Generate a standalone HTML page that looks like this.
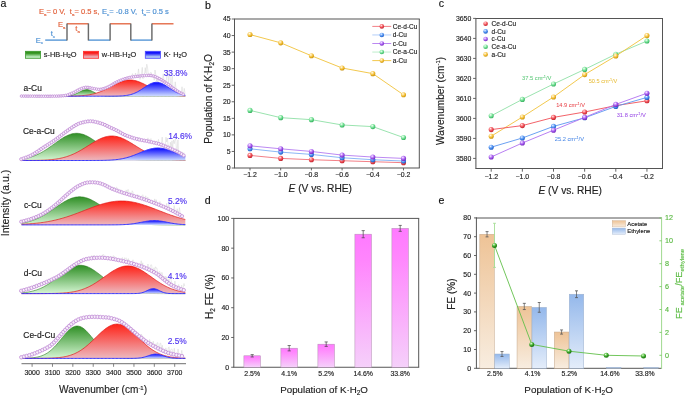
<!DOCTYPE html>
<html><head><meta charset="utf-8"><style>html,body{margin:0;padding:0;background:#fff;width:685px;height:397px;overflow:hidden}svg{display:block;font-family:"Liberation Sans", sans-serif}</style></head>
<body><svg width="685" height="397" viewBox="0 0 685 397" style="will-change:transform" font-family='"Liberation Sans", sans-serif'><defs><radialGradient id="m_red" cx="0.38" cy="0.32" r="0.75"><stop offset="0" stop-color="#ffffff"/><stop offset="0.22" stop-color="#ff9a9e"/><stop offset="0.6" stop-color="#e8434b"/><stop offset="1" stop-color="#b8202a"/></radialGradient><radialGradient id="m_blue" cx="0.38" cy="0.32" r="0.75"><stop offset="0" stop-color="#ffffff"/><stop offset="0.22" stop-color="#9cc4ff"/><stop offset="0.6" stop-color="#3f85ea"/><stop offset="1" stop-color="#1f56b8"/></radialGradient><radialGradient id="m_purple" cx="0.38" cy="0.32" r="0.75"><stop offset="0" stop-color="#ffffff"/><stop offset="0.22" stop-color="#d6a8ff"/><stop offset="0.6" stop-color="#9b4fe6"/><stop offset="1" stop-color="#6a22b4"/></radialGradient><radialGradient id="m_green" cx="0.38" cy="0.32" r="0.75"><stop offset="0" stop-color="#ffffff"/><stop offset="0.22" stop-color="#b8f5c8"/><stop offset="0.6" stop-color="#5fd685"/><stop offset="1" stop-color="#2fa656"/></radialGradient><radialGradient id="m_gold" cx="0.38" cy="0.32" r="0.75"><stop offset="0" stop-color="#ffffff"/><stop offset="0.22" stop-color="#ffe39a"/><stop offset="0.6" stop-color="#efb82a"/><stop offset="1" stop-color="#c08a08"/></radialGradient><radialGradient id="m_dgreen" cx="0.38" cy="0.32" r="0.75"><stop offset="0" stop-color="#ffffff"/><stop offset="0.22" stop-color="#8fdc7a"/><stop offset="0.6" stop-color="#2e9a1e"/><stop offset="1" stop-color="#1a6a10"/></radialGradient><linearGradient id="sw_g" x1="0" y1="0" x2="0" y2="1"><stop offset="0" stop-color="#288a10"/><stop offset="0.3" stop-color="#3a9828"/><stop offset="0.75" stop-color="#b0e4b0"/><stop offset="1" stop-color="#c4eec4"/></linearGradient><linearGradient id="sw_r" x1="0" y1="0" x2="0" y2="1"><stop offset="0" stop-color="#ff1000"/><stop offset="0.3" stop-color="#f8282a"/><stop offset="0.75" stop-color="#eaa4ac"/><stop offset="1" stop-color="#ecb0b6"/></linearGradient><linearGradient id="sw_b" x1="0" y1="0" x2="0" y2="1"><stop offset="0" stop-color="#0000ff"/><stop offset="0.3" stop-color="#2020fa"/><stop offset="0.75" stop-color="#a4bcf6"/><stop offset="1" stop-color="#b4cbf8"/></linearGradient><linearGradient id="pk1" gradientUnits="userSpaceOnUse" x1="0" y1="89.6" x2="0" y2="96.2"><stop offset="0" stop-color="#2f8f25"/><stop offset="1" stop-color="#d6f6d4"/></linearGradient><linearGradient id="pk2" gradientUnits="userSpaceOnUse" x1="0" y1="80" x2="0" y2="96.2"><stop offset="0" stop-color="#ff2318"/><stop offset="1" stop-color="#edb9c0"/></linearGradient><linearGradient id="pk3" gradientUnits="userSpaceOnUse" x1="0" y1="82.3" x2="0" y2="96.2"><stop offset="0" stop-color="#0606ff"/><stop offset="1" stop-color="#d0deff"/></linearGradient><linearGradient id="pk4" gradientUnits="userSpaceOnUse" x1="0" y1="133.3" x2="0" y2="160.5"><stop offset="0" stop-color="#2f8f25"/><stop offset="1" stop-color="#d6f6d4"/></linearGradient><linearGradient id="pk5" gradientUnits="userSpaceOnUse" x1="0" y1="136" x2="0" y2="160.5"><stop offset="0" stop-color="#ff2318"/><stop offset="1" stop-color="#edb9c0"/></linearGradient><linearGradient id="pk6" gradientUnits="userSpaceOnUse" x1="0" y1="148" x2="0" y2="160.5"><stop offset="0" stop-color="#0606ff"/><stop offset="1" stop-color="#d0deff"/></linearGradient><linearGradient id="pk7" gradientUnits="userSpaceOnUse" x1="0" y1="196.8" x2="0" y2="224.9"><stop offset="0" stop-color="#2f8f25"/><stop offset="1" stop-color="#d6f6d4"/></linearGradient><linearGradient id="pk8" gradientUnits="userSpaceOnUse" x1="0" y1="201" x2="0" y2="224.9"><stop offset="0" stop-color="#ff2318"/><stop offset="1" stop-color="#edb9c0"/></linearGradient><linearGradient id="pk9" gradientUnits="userSpaceOnUse" x1="0" y1="220.6" x2="0" y2="224.9"><stop offset="0" stop-color="#0606ff"/><stop offset="1" stop-color="#d0deff"/></linearGradient><linearGradient id="pk10" gradientUnits="userSpaceOnUse" x1="0" y1="265.3" x2="0" y2="293.6"><stop offset="0" stop-color="#2f8f25"/><stop offset="1" stop-color="#d6f6d4"/></linearGradient><linearGradient id="pk11" gradientUnits="userSpaceOnUse" x1="0" y1="265.9" x2="0" y2="293.6"><stop offset="0" stop-color="#ff2318"/><stop offset="1" stop-color="#edb9c0"/></linearGradient><linearGradient id="pk12" gradientUnits="userSpaceOnUse" x1="0" y1="288.6" x2="0" y2="293.6"><stop offset="0" stop-color="#0606ff"/><stop offset="1" stop-color="#d0deff"/></linearGradient><linearGradient id="pk13" gradientUnits="userSpaceOnUse" x1="0" y1="326" x2="0" y2="358.4"><stop offset="0" stop-color="#2f8f25"/><stop offset="1" stop-color="#d6f6d4"/></linearGradient><linearGradient id="pk14" gradientUnits="userSpaceOnUse" x1="0" y1="324.1" x2="0" y2="358.4"><stop offset="0" stop-color="#ff2318"/><stop offset="1" stop-color="#edb9c0"/></linearGradient><linearGradient id="pk15" gradientUnits="userSpaceOnUse" x1="0" y1="354.1" x2="0" y2="358.4"><stop offset="0" stop-color="#0606ff"/><stop offset="1" stop-color="#d0deff"/></linearGradient><linearGradient id="bar_m" x1="0" y1="0" x2="0" y2="1"><stop offset="0" stop-color="#ff7aff"/><stop offset="0.2" stop-color="#ff86fd"/><stop offset="1" stop-color="#f5d0fa"/></linearGradient><linearGradient id="bar_a" x1="0" y1="0" x2="0" y2="1"><stop offset="0" stop-color="#eec396"/><stop offset="1" stop-color="#f8ede0"/></linearGradient><linearGradient id="bar_e" x1="0" y1="0" x2="0" y2="1"><stop offset="0" stop-color="#94b8eb"/><stop offset="1" stop-color="#e4edfa"/></linearGradient></defs><rect width="685" height="397" fill="#fff"/><text x="0.6" y="6.8" font-size="10.6" fill="#111" stroke="#111" stroke-width="0.15" text-anchor="start" >a</text>
<text x="38.9" y="14" font-size="7.1" fill="#e2603a" textLength="60.5" lengthAdjust="spacingAndGlyphs" stroke="#e2603a" stroke-width="0.15">E<tspan font-size="4.2" dy="1.8">a</tspan><tspan dy="-1.8">= 0 V, &#160;t</tspan><tspan font-size="4.2" dy="1.8">a</tspan><tspan dy="-1.8">= 0.5 s,</tspan></text>
<text x="101.9" y="14" font-size="7.1" fill="#4a8fd3" textLength="67" lengthAdjust="spacingAndGlyphs" stroke="#4a8fd3" stroke-width="0.15">E<tspan font-size="4.2" dy="1.8">c</tspan><tspan dy="-1.8">= -0.8 V, &#160;t</tspan><tspan font-size="4.2" dy="1.8">a</tspan><tspan dy="-1.8">= 0.5 s</tspan></text>
<line x1="45.2" y1="40.1" x2="67" y2="40.1" stroke="#4a8fd3" stroke-width="1.3" />
<line x1="67" y1="23.8" x2="88.4" y2="23.8" stroke="#e2603a" stroke-width="1.3" />
<line x1="88.4" y1="40.1" x2="110.1" y2="40.1" stroke="#4a8fd3" stroke-width="1.3" />
<line x1="110.1" y1="23.8" x2="130.8" y2="23.8" stroke="#e2603a" stroke-width="1.3" />
<line x1="130.8" y1="40.1" x2="151.9" y2="40.1" stroke="#4a8fd3" stroke-width="1.3" />
<line x1="151.9" y1="23.8" x2="173.5" y2="23.8" stroke="#e2603a" stroke-width="1.3" />
<line x1="67" y1="23.4" x2="67" y2="40.5" stroke="#6a6a6a" stroke-width="1.45" />
<line x1="88.4" y1="23.4" x2="88.4" y2="40.5" stroke="#6a6a6a" stroke-width="1.45" />
<line x1="110.1" y1="23.4" x2="110.1" y2="40.5" stroke="#6a6a6a" stroke-width="1.45" />
<line x1="130.8" y1="23.4" x2="130.8" y2="40.5" stroke="#6a6a6a" stroke-width="1.45" />
<line x1="151.9" y1="23.4" x2="151.9" y2="40.5" stroke="#6a6a6a" stroke-width="1.45" />
<text x="57.9" y="27.3" font-size="7.5" fill="#e2603a" stroke="#e2603a" stroke-width="0.15">E<tspan font-size="4.3" dy="1.4">a</tspan></text>
<text x="75.3" y="30.7" font-size="7.8" fill="#e2603a" stroke="#e2603a" stroke-width="0.15">t<tspan font-size="4.3" dy="1.8">a</tspan></text>
<text x="50.7" y="35.9" font-size="7.8" fill="#4a8fd3" stroke="#4a8fd3" stroke-width="0.15">t<tspan font-size="4.3" dy="1.8">c</tspan></text>
<text x="35.8" y="42.5" font-size="7.5" fill="#4a8fd3" stroke="#4a8fd3" stroke-width="0.15">E<tspan font-size="4.3" dy="1.6">c</tspan></text>
<rect x="25.4" y="51.3" width="15.2" height="7.0" fill="url(#sw_g)" stroke="#3c9a30" stroke-width="0.8"/>
<rect x="83.4" y="51.3" width="15.2" height="7.0" fill="url(#sw_r)" stroke="#ff3030" stroke-width="0.8"/>
<rect x="145.3" y="51.3" width="15.2" height="7.0" fill="url(#sw_b)" stroke="#4a4aff" stroke-width="0.8"/>
<text x="43.8" y="56.8" font-size="7.4" fill="#222" stroke="#222" stroke-width="0.15">s-HB-H<tspan font-size="5" dy="1.5">2</tspan><tspan dy="-1.5">O</tspan></text>
<text x="101.8" y="56.8" font-size="7.4" fill="#222" stroke="#222" stroke-width="0.15">w-HB-H<tspan font-size="5" dy="1.5">2</tspan><tspan dy="-1.5">O</tspan></text>
<text x="163.7" y="56.8" font-size="7.4" fill="#222" stroke="#222" stroke-width="0.15">K· H<tspan font-size="5" dy="1.5">2</tspan><tspan dy="-1.5">O</tspan></text>
<polyline points="21.5,95.98 22.25,95.96 23,95.62 23.75,95.47 24.5,96.09 25.25,96.03 26,95.99 26.75,96.11 27.5,95.74 28.25,96.01 29,95.59 29.75,96.14 30.5,96.09 31.25,96.12 32,95.79 32.75,96.04 33.5,95.58 34.25,95.75 35,96.13 35.75,96.08 36.5,95.6 37.25,96.1 38,95.65 38.75,95.84 39.5,96.14 40.25,96.12 41,96.22 41.75,96.21 42.5,96.1 43.25,96.08 44,96.2 44.75,95.59 45.5,95.82 46.25,96.14 47,95.67 47.75,96.21 48.5,95.61 49.25,95.86 50,96.08 50.75,96.25 51.5,96.14 52.25,96.13 53,96.06 53.75,96.08 54.5,96.07 55.25,96.15 56,95.63 56.75,96.31 57.5,96.28 58.25,95.67 59,95.71 59.75,95.89 60.5,95.92 61.25,95.92 62,95.78 62.75,95.74 63.5,95.15 64.25,95.6 65,95.11 65.75,95.27 66.5,95.12 67.25,95.26 68,94.73 68.75,94.46 69.5,94.47 70.25,93.31 71,93.65 71.75,93.42 72.5,92.92 73.25,92.73 74,92.24 74.75,91.89 75.5,91.08 76.25,90.66 77,90.61 77.75,90.48 78.5,89.73 79.25,89.07 80,89.29 80.75,88.85 81.5,88.19 82.25,88.17 83,87.84 83.75,87.6 84.5,87.45 85.25,86.82 86,87.29 86.75,87.27 87.5,86.74 88.25,86.89 89,87.22 89.75,87.3 90.5,87.26 91.25,87.55 92,88.18 92.75,88.43 93.5,88.55 94.25,88.94 95,88.74 95.75,89.15 96.5,89.06 97.25,88.59 98,89.42 98.75,89.36 99.5,88.78 100.25,89.32 101,88.77 101.75,89.06 102.5,88.8 103.25,88.65 104,88.11 104.75,88.48 105.5,87.56 106.25,87.58 107,87.29 107.75,87 108.5,86.43 109.25,86.36 110,86.15 110.75,85.23 111.5,85.06 112.25,84.05 113,83.74 113.75,83.01 114.5,83.43 115.25,82.63 116,82.24 116.75,81.62 117.5,81.15 118.25,81.42 119,80.92 119.75,80.54 120.5,80.35 121.25,79.96 122,79.63 122.75,79.01 123.5,78.87 124.25,78.95 125,78.24 125.75,78.42 126.5,78.39 127.25,77.9 128,77.78 128.75,77.21 129.5,77.54 130.25,77.67 131,77.09 131.75,76.58 132.5,73.66 133.25,75.99 134,76.51 134.75,76.01 135.5,73 136.25,75.11 137,76.2 137.75,75.07 138.5,68.91 139.25,75.53 140,79.44 140.75,75.55 141.5,73.92 142.25,67.37 143,78.78 143.75,75.28 144.5,74.14 145.25,67.64 146,73.12 146.75,64.21 147.5,67 148.25,74.46 149,74.29 149.75,75 150.5,72.47 151.25,72.58 152,75.59 152.75,75.52 153.5,75.27 154.25,80.22 155,70.05 155.75,74.64 156.5,81.11 157.25,77.65 158,82.8 158.75,77.03 159.5,77.52 160.25,78.09 161,77.67 161.75,78.98 162.5,79.21 163.25,73.85 164,81.48 164.75,80.09 165.5,80.9 166.25,81.64 167,70.93 167.75,72.72 168.5,84.44 169.25,72.73 170,73.07 170.75,89.37 171.5,80.74 172.25,76.21 173,87.53 173.75,88.46 174.5,89.2 175.25,81.85 176,88.95 176.75,88.66 177.5,91.83 178.25,92.63 179,93.01 179.75,95.27 180.5,91.65 181.25,92.9 182,86.76 182.75,92.69 183.5,93.68 184.25,88.4 185,93.59" fill="none" stroke="#cfcfcf" stroke-width="0.45"/>
<polyline points="21.2,159.06 21.95,158.49 22.7,158.52 23.45,158.4 24.2,158.01 24.95,157.82 25.7,157.92 26.45,157.82 27.2,157.03 27.95,156.7 28.7,155.26 29.45,156.14 30.2,155.6 30.95,154.58 31.7,154.37 32.45,154.48 33.2,153.27 33.95,153.82 34.7,152.11 35.45,152.72 36.2,152.68 36.95,151.75 37.7,151.08 38.45,151.11 39.2,150.03 39.95,148.38 40.7,149.82 41.45,147.55 42.2,147.44 42.95,148.18 43.7,146.31 44.45,145.82 45.2,146.25 45.95,144.96 46.7,143.97 47.45,144.89 48.2,144.16 48.95,144.42 49.7,143.76 50.45,142.9 51.2,142.3 51.95,141.73 52.7,140.15 53.45,140.74 54.2,140.29 54.95,138.95 55.7,139.29 56.45,137.45 57.2,138.24 57.95,137.71 58.7,137.17 59.45,136.67 60.2,135.88 60.95,135.31 61.7,134.86 62.45,134.37 63.2,134.37 63.95,132.89 64.7,132.59 65.45,131.98 66.2,131.51 66.95,129.74 67.7,129.7 68.45,129.65 69.2,129.38 69.95,128.66 70.7,128.58 71.45,127.89 72.2,126.91 72.95,126.79 73.7,126.31 74.45,125.43 75.2,125.51 75.95,124.41 76.7,124.51 77.45,123.63 78.2,123.75 78.95,123.5 79.7,123.22 80.45,122.51 81.2,122.74 81.95,122.56 82.7,122.32 83.45,122.22 84.2,122.08 84.95,121.48 85.7,121.89 86.45,121.07 87.2,121.67 87.95,121.23 88.7,121.25 89.45,121.23 90.2,121.43 90.95,121.31 91.7,121.32 92.45,121.35 93.2,121.29 93.95,121.81 94.7,121.77 95.45,121.88 96.2,122.04 96.95,122.1 97.7,122.58 98.45,122.5 99.2,122.73 99.95,123.22 100.7,123.28 101.45,123.06 102.2,123.4 102.95,124.13 103.7,124.23 104.45,124.53 105.2,124.99 105.95,125.29 106.7,125.72 107.45,125.59 108.2,126.34 108.95,126.74 109.7,126.62 110.45,127.43 111.2,127.78 111.95,127.62 112.7,128.59 113.45,128.82 114.2,128.79 114.95,129.6 115.7,129.66 116.45,130.31 117.2,130.62 117.95,131.07 118.7,131.5 119.45,131.48 120.2,132.1 120.95,132.87 121.7,133.26 122.45,133.79 123.2,134.09 123.95,134.04 124.7,134.41 125.45,135.09 126.2,134.91 126.95,135.33 127.7,136.01 128.45,136.26 129.2,136.59 129.95,136.75 130.7,137.21 131.45,137.37 132.2,137.71 132.95,137.79 133.7,138.01 134.45,138.31 135.2,137.96 135.95,138.28 136.7,138.89 137.45,139.06 138.2,137.15 138.95,139.16 139.7,137.59 140.45,139.73 141.2,139.49 141.95,139.47 142.7,139.65 143.45,139.82 144.2,140.98 144.95,140.04 145.7,140.08 146.45,140.84 147.2,140.33 147.95,137.88 148.7,141.18 149.45,141.23 150.2,139.83 150.95,138.54 151.7,141.83 152.45,142.02 153.2,142.47 153.95,142.53 154.7,142.68 155.45,141.98 156.2,140.96 156.95,143.22 157.7,143.79 158.45,139.37 159.2,143.77 159.95,144.15 160.7,143.95 161.45,143.89 162.2,137.08 162.95,145.12 163.7,148.77 164.45,147.34 165.2,147.54 165.95,137.16 166.7,141.97 167.45,138.12 168.2,146.84 168.95,145.58 169.7,151.14 170.45,142.27 171.2,147.15 171.95,140.81 172.7,147.55 173.45,139.94 174.2,143.69 174.95,139.8 175.7,138.99 176.45,149.09 177.2,150.46 177.95,139.85 178.7,153.22 179.45,151.88 180.2,155.71 180.95,152.78 181.7,151.62 182.45,152.83 183.2,157.37 183.95,152.39" fill="none" stroke="#cfcfcf" stroke-width="0.45"/>
<polyline points="21.2,221.69 21.95,221.44 22.7,221.24 23.45,221.28 24.2,220.9 24.95,220.63 25.7,220.32 26.45,220.12 27.2,219.87 27.95,219.76 28.7,218.88 29.45,218.6 30.2,219.18 30.95,218.8 31.7,217.62 32.45,218.53 33.2,217.94 33.95,217.73 34.7,217.32 35.45,217.2 36.2,216.9 36.95,215.96 37.7,216.21 38.45,216.42 39.2,215.38 39.95,214.64 40.7,214.06 41.45,214.31 42.2,213.92 42.95,213.71 43.7,212.64 44.45,211.83 45.2,212.24 45.95,211.73 46.7,211.24 47.45,211.22 48.2,209.18 48.95,210 49.7,209.32 50.45,208.09 51.2,207.38 51.95,207.92 52.7,206.86 53.45,206.6 54.2,205.78 54.95,205.18 55.7,204.71 56.45,202.9 57.2,202.47 57.95,202.56 58.7,201.95 59.45,201.45 60.2,200.66 60.95,200.03 61.7,198.58 62.45,198.53 63.2,196.85 63.95,197.18 64.7,195.89 65.45,194.83 66.2,195.74 66.95,194.51 67.7,193.82 68.45,192.39 69.2,192.33 69.95,191.77 70.7,191.32 71.45,190.97 72.2,190.21 72.95,189.62 73.7,188.97 74.45,188.69 75.2,187.87 75.95,187.29 76.7,186.6 77.45,186.62 78.2,186.05 78.95,185.59 79.7,185.28 80.45,184.52 81.2,184.55 81.95,184.16 82.7,183.5 83.45,183.51 84.2,183.3 84.95,182.99 85.7,182.84 86.45,182.8 87.2,182.11 87.95,182.39 88.7,182.25 89.45,181.91 90.2,181.72 90.95,181.87 91.7,182.45 92.45,182.49 93.2,181.78 93.95,182.26 94.7,182.25 95.45,182.34 96.2,182.43 96.95,182.27 97.7,182.49 98.45,183.71 99.2,183.02 99.95,183.12 100.7,183.13 101.45,183.34 102.2,183.87 102.95,183.9 103.7,184.13 104.45,183.35 105.2,184.89 105.95,183.88 106.7,185.67 107.45,186.49 108.2,184.97 108.95,186.54 109.7,187.32 110.45,187.77 111.2,188.29 111.95,188.12 112.7,188.29 113.45,188.83 114.2,187.09 114.95,189.64 115.7,189.59 116.45,187.13 117.2,187.79 117.95,188.76 118.7,192.38 119.45,191.4 120.2,191.01 120.95,189.63 121.7,192.01 122.45,194.23 123.2,194.35 123.95,192.27 124.7,194.64 125.45,193.47 126.2,189.9 126.95,193.02 127.7,189.64 128.45,189.68 129.2,194.33 129.95,194.32 130.7,192.51 131.45,195.36 132.2,190.69 132.95,192.11 133.7,194.83 134.45,195.37 135.2,195.88 135.95,195.86 136.7,197.95 137.45,194.69 138.2,194.86 138.95,196.55 139.7,197.01 140.45,197.74 141.2,197.3 141.95,195.78 142.7,194.78 143.45,196.56 144.2,198.65 144.95,200.21 145.7,195.86 146.45,199.46 147.2,197.67 147.95,197.21 148.7,198.64 149.45,200.85 150.2,201.12 150.95,202.73 151.7,201.44 152.45,203.76 153.2,201.61 153.95,202.42 154.7,198.9 155.45,202.72 156.2,199.64 156.95,203.85 157.7,204.87 158.45,204.02 159.2,204.43 159.95,201.55 160.7,206.03 161.45,205.29 162.2,206.39 162.95,205.78 163.7,206.08 164.45,207.69 165.2,206.82 165.95,206.39 166.7,203.37 167.45,207.6 168.2,208.12 168.95,202.71 169.7,210.23 170.45,209.69 171.2,212.12 171.95,209.22 172.7,211.26 173.45,212.64 174.2,205.6 174.95,210.47 175.7,214.01 176.45,215.25 177.2,208.76 177.95,212.04 178.7,213.32 179.45,207.6 180.2,213.22 180.95,216.23 181.7,215.92 182.45,215.4 183.2,216.06 183.95,216.69" fill="none" stroke="#cfcfcf" stroke-width="0.45"/>
<polyline points="21.2,290.87 21.95,290.53 22.7,290.14 23.45,290.67 24.2,289.96 24.95,289.67 25.7,289.31 26.45,288.36 27.2,288.78 27.95,288.59 28.7,287.47 29.45,288.35 30.2,286.42 30.95,287.87 31.7,287.49 32.45,287.19 33.2,288.01 33.95,286.89 34.7,285.39 35.45,284.64 36.2,284.42 36.95,284.14 37.7,285.7 38.45,285.12 39.2,284.87 39.95,283.23 40.7,282.9 41.45,283.82 42.2,282.2 42.95,282.11 43.7,282.78 44.45,281.86 45.2,282.35 45.95,281.93 46.7,281.51 47.45,281.16 48.2,281.06 48.95,279.13 49.7,280.36 50.45,278.99 51.2,279.61 51.95,279.67 52.7,278.78 53.45,278.41 54.2,276.76 54.95,278.11 55.7,276.09 56.45,277.29 57.2,276.54 57.95,274.73 58.7,274.99 59.45,275.15 60.2,274.98 60.95,274.48 61.7,273.93 62.45,273.51 63.2,272.54 63.95,272.43 64.7,271.59 65.45,271.4 66.2,270.9 66.95,270.21 67.7,269.76 68.45,268.82 69.2,268.52 69.95,268.02 70.7,267.7 71.45,266.95 72.2,266.16 72.95,265.61 73.7,265.33 74.45,264.34 75.2,264.4 75.95,263.9 76.7,263.39 77.45,262.96 78.2,262.09 78.95,262.12 79.7,262.03 80.45,261.27 81.2,260.9 81.95,260.31 82.7,259.78 83.45,259.87 84.2,259.69 84.95,259.44 85.7,258.72 86.45,259.01 87.2,258.76 87.95,258.63 88.7,258.47 89.45,257.87 90.2,257.8 90.95,258.04 91.7,255.55 92.45,256.64 93.2,255.54 93.95,255.72 94.7,255.62 95.45,258.79 96.2,257.15 96.95,256.19 97.7,257.16 98.45,257.63 99.2,257.38 99.95,257.68 100.7,258.42 101.45,257.09 102.2,255.16 102.95,254.89 103.7,254.53 104.45,258.64 105.2,257.87 105.95,257.54 106.7,257.46 107.45,259.52 108.2,256.4 108.95,257.7 109.7,258.4 110.45,256.25 111.2,258.12 111.95,256.38 112.7,258.61 113.45,255.63 114.2,256.52 114.95,256.75 115.7,259.39 116.45,260.33 117.2,260.49 117.95,260.55 118.7,259.71 119.45,260.79 120.2,259.79 120.95,259.65 121.7,259.95 122.45,257.53 123.2,260.82 123.95,260.63 124.7,257.69 125.45,258.76 126.2,258.06 126.95,258.71 127.7,261.27 128.45,258.6 129.2,262.57 129.95,262.07 130.7,262.24 131.45,264.19 132.2,262.88 132.95,259.75 133.7,263.16 134.45,264.03 135.2,263.95 135.95,263.66 136.7,264.55 137.45,263.79 138.2,265.97 138.95,264.94 139.7,265.33 140.45,265.7 141.2,260.76 141.95,268.47 142.7,262.79 143.45,267.83 144.2,269.2 144.95,267.26 145.7,266.8 146.45,267.31 147.2,270.8 147.95,263.99 148.7,269.27 149.45,269.94 150.2,266.61 150.95,264.64 151.7,265.07 152.45,273.03 153.2,271.63 153.95,267.72 154.7,271.48 155.45,266.81 156.2,268.11 156.95,268.16 157.7,274.03 158.45,273.58 159.2,271.66 159.95,271.61 160.7,275.93 161.45,272.75 162.2,272.55 162.95,277.76 163.7,275.95 164.45,279.64 165.2,276.16 165.95,282.39 166.7,276.69 167.45,284.54 168.2,279.12 168.95,283.29 169.7,277 170.45,277.22 171.2,280.15 171.95,284.13 172.7,284.7 173.45,287.22 174.2,285.05 174.95,281.06 175.7,286.1 176.45,286.83 177.2,286.12 177.95,286.93 178.7,284.49 179.45,288.38 180.2,288.1 180.95,288.2 181.7,285.22 182.45,292.02 183.2,288.21 183.95,283.47 184.7,286.04" fill="none" stroke="#cfcfcf" stroke-width="0.45"/>
<polyline points="21.3,356.93 22.05,357.94 22.8,356.76 23.55,354.7 24.3,357.24 25.05,355.99 25.8,354.73 26.55,355.73 27.3,356.08 28.05,353.98 28.8,354.13 29.55,354.88 30.3,354.88 31.05,354.3 31.8,354.67 32.55,354.18 33.3,353.7 34.05,351.89 34.8,353.35 35.55,352.78 36.3,351.05 37.05,350.86 37.8,351.82 38.55,352 39.3,351.26 40.05,350.56 40.8,350.71 41.55,350.37 42.3,349.96 43.05,349.64 43.8,349.25 44.55,348.86 45.3,348.54 46.05,348.15 46.8,347.76 47.55,347.31 48.3,346.64 49.05,346.19 49.8,345.96 50.55,345.49 51.3,344.84 52.05,344.13 52.8,343.81 53.55,342.94 54.3,341.6 55.05,340.85 55.8,340.57 56.55,339.55 57.3,338.64 58.05,337.48 58.8,336.34 59.55,336.02 60.3,335.29 61.05,334.68 61.8,333.49 62.55,332.75 63.3,331.89 64.05,330.67 64.8,330.3 65.55,329.15 66.3,328.48 67.05,327.63 67.8,326.91 68.55,326.51 69.3,325.75 70.05,325.27 70.8,324.67 71.55,323.39 72.3,322.97 73.05,322.97 73.8,321.65 74.55,321.61 75.3,320.85 76.05,320.62 76.8,320.24 77.55,319.86 78.3,319.48 79.05,319.16 79.8,318.86 80.55,318.1 81.3,318.61 82.05,318.04 82.8,318.07 83.55,317.65 84.3,317.05 85.05,317.5 85.8,317.33 86.55,317.26 87.3,317.15 88.05,317.3 88.8,317.19 89.55,316.93 90.3,317.13 91.05,316.54 91.8,316.72 92.55,316.98 93.3,317.02 94.05,316.78 94.8,316.7 95.55,316.78 96.3,316.87 97.05,316.47 97.8,316.54 98.55,316.87 99.3,316.59 100.05,316.95 100.8,316.95 101.55,317.06 102.3,317.3 103.05,317.15 103.8,317.15 104.55,317.24 105.3,317.34 106.05,317.32 106.8,317.33 107.55,317.42 108.3,317.47 109.05,317.58 109.8,317.34 110.55,317.96 111.3,318.17 112.05,318.49 112.8,318.72 113.55,318.45 114.3,318.93 115.05,319.12 115.8,319.38 116.55,319.33 117.3,319.97 118.05,320.23 118.8,320.51 119.55,320.9 120.3,321.23 121.05,321.57 121.8,321.54 122.55,322.64 123.3,322.68 124.05,323.4 124.8,324.28 125.55,324.81 126.3,325.43 127.05,325.88 127.8,325.96 128.55,327.26 129.3,327.54 130.05,329.44 130.8,329.63 131.55,328.2 132.3,330.24 133.05,332.03 133.8,332.72 134.55,330.64 135.3,331.43 136.05,331.76 136.8,333.68 137.55,334.07 138.3,335.48 139.05,335.74 139.8,336.08 140.55,337.03 141.3,334.12 142.05,335.39 142.8,336.42 143.55,339.66 144.3,337.9 145.05,342.27 145.8,342.62 146.55,341.4 147.3,341.36 148.05,342.85 148.8,342.63 149.55,339.47 150.3,341.52 151.05,343.44 151.8,342.1 152.55,344.3 153.3,341.15 154.05,345.65 154.8,346.17 155.55,343.89 156.3,346.94 157.05,342.82 157.8,342.62 158.55,349.59 159.3,348.17 160.05,343.2 160.8,343.22 161.55,349.85 162.3,345.26 163.05,350.11 163.8,350.49 164.55,353.11 165.3,348.5 166.05,347.9 166.8,352.35 167.55,353.02 168.3,347.68 169.05,346.83 169.8,353.03 170.55,349.8 171.3,349.23 172.05,349.08 172.8,353.3 173.55,354.2 174.3,348.24 175.05,355.9 175.8,357.44 176.55,353.82 177.3,355.35 178.05,348.98 178.8,355.42 179.55,355.11 180.3,355.31 181.05,355.55 181.8,350.33 182.55,355.89 183.3,354.75" fill="none" stroke="#cfcfcf" stroke-width="0.45"/>
<path d="M21.5,96.2 L21.5,96.2 L22.86,96.2 L24.23,96.2 L25.59,96.2 L26.96,96.2 L28.32,96.2 L29.69,96.2 L31.05,96.2 L32.42,96.2 L33.78,96.2 L35.15,96.2 L36.52,96.2 L37.88,96.2 L39.25,96.2 L40.61,96.2 L41.98,96.2 L43.34,96.2 L44.7,96.2 L46.07,96.2 L47.44,96.2 L48.8,96.2 L50.17,96.2 L51.53,96.2 L52.89,96.2 L54.26,96.2 L55.63,96.2 L56.99,96.2 L58.36,96.2 L59.72,96.19 L61.09,96.18 L62.45,96.17 L63.82,96.14 L65.18,96.1 L66.55,96.03 L67.91,95.93 L69.28,95.77 L70.64,95.56 L72,95.26 L73.37,94.87 L74.74,94.37 L76.1,93.79 L77.47,93.12 L78.83,92.4 L80.2,91.66 L81.56,90.97 L82.93,90.37 L84.29,89.91 L85.66,89.65 L87.02,89.61 L88.39,89.79 L89.75,90.17 L91.12,90.72 L92.48,91.39 L93.85,92.11 L95.21,92.85 L96.58,93.54 L97.94,94.16 L99.31,94.69 L100.67,95.12 L102.04,95.45 L103.4,95.7 L104.77,95.88 L106.13,96 L107.5,96.08 L108.86,96.13 L110.22,96.16 L111.59,96.18 L112.95,96.19 L114.32,96.19 L115.69,96.2 L117.05,96.2 L118.42,96.2 L119.78,96.2 L121.15,96.2 L122.51,96.2 L123.88,96.2 L125.24,96.2 L126.61,96.2 L127.97,96.2 L129.34,96.2 L130.7,96.2 L132.06,96.2 L133.43,96.2 L134.8,96.2 L136.16,96.2 L137.53,96.2 L138.89,96.2 L140.25,96.2 L141.62,96.2 L142.99,96.2 L144.35,96.2 L145.72,96.2 L147.08,96.2 L148.44,96.2 L149.81,96.2 L151.18,96.2 L152.54,96.2 L153.91,96.2 L155.27,96.2 L156.64,96.2 L158,96.2 L159.37,96.2 L160.73,96.2 L162.09,96.2 L163.46,96.2 L164.82,96.2 L166.19,96.2 L167.56,96.2 L168.92,96.2 L170.28,96.2 L171.65,96.2 L173.02,96.2 L174.38,96.2 L175.75,96.2 L177.11,96.2 L178.47,96.2 L179.84,96.2 L181.21,96.2 L182.57,96.2 L183.94,96.2 L185.3,96.2 L185.3,96.2 Z" fill="url(#pk1)"/>
<path d="M21.5,96.2 L22.86,96.2 L24.23,96.2 L25.59,96.2 L26.96,96.2 L28.32,96.2 L29.69,96.2 L31.05,96.2 L32.42,96.2 L33.78,96.2 L35.15,96.2 L36.52,96.2 L37.88,96.2 L39.25,96.2 L40.61,96.2 L41.98,96.2 L43.34,96.2 L44.7,96.2 L46.07,96.2 L47.44,96.2 L48.8,96.2 L50.17,96.2 L51.53,96.2 L52.89,96.2 L54.26,96.2 L55.63,96.2 L56.99,96.2 L58.36,96.2 L59.72,96.19 L61.09,96.18 L62.45,96.17 L63.82,96.14 L65.18,96.1 L66.55,96.03 L67.91,95.93 L69.28,95.77 L70.64,95.56 L72,95.26 L73.37,94.87 L74.74,94.37 L76.1,93.79 L77.47,93.12 L78.83,92.4 L80.2,91.66 L81.56,90.97 L82.93,90.37 L84.29,89.91 L85.66,89.65 L87.02,89.61 L88.39,89.79 L89.75,90.17 L91.12,90.72 L92.48,91.39 L93.85,92.11 L95.21,92.85 L96.58,93.54 L97.94,94.16 L99.31,94.69 L100.67,95.12 L102.04,95.45 L103.4,95.7 L104.77,95.88 L106.13,96 L107.5,96.08 L108.86,96.13 L110.22,96.16 L111.59,96.18 L112.95,96.19 L114.32,96.19 L115.69,96.2 L117.05,96.2 L118.42,96.2 L119.78,96.2 L121.15,96.2 L122.51,96.2 L123.88,96.2 L125.24,96.2 L126.61,96.2 L127.97,96.2 L129.34,96.2 L130.7,96.2 L132.06,96.2 L133.43,96.2 L134.8,96.2 L136.16,96.2 L137.53,96.2 L138.89,96.2 L140.25,96.2 L141.62,96.2 L142.99,96.2 L144.35,96.2 L145.72,96.2 L147.08,96.2 L148.44,96.2 L149.81,96.2 L151.18,96.2 L152.54,96.2 L153.91,96.2 L155.27,96.2 L156.64,96.2 L158,96.2 L159.37,96.2 L160.73,96.2 L162.09,96.2 L163.46,96.2 L164.82,96.2 L166.19,96.2 L167.56,96.2 L168.92,96.2 L170.28,96.2 L171.65,96.2 L173.02,96.2 L174.38,96.2 L175.75,96.2 L177.11,96.2 L178.47,96.2 L179.84,96.2 L181.21,96.2 L182.57,96.2 L183.94,96.2 L185.3,96.2" fill="none" stroke="#2a7a20" stroke-width="0.6"/>
<path d="M21.5,96.2 L21.5,96.2 L22.86,96.2 L24.23,96.2 L25.59,96.2 L26.96,96.2 L28.32,96.2 L29.69,96.2 L31.05,96.2 L32.42,96.2 L33.78,96.2 L35.15,96.2 L36.52,96.2 L37.88,96.2 L39.25,96.2 L40.61,96.2 L41.98,96.2 L43.34,96.2 L44.7,96.2 L46.07,96.2 L47.44,96.2 L48.8,96.2 L50.17,96.2 L51.53,96.2 L52.89,96.2 L54.26,96.2 L55.63,96.19 L56.99,96.19 L58.36,96.19 L59.72,96.19 L61.09,96.18 L62.45,96.18 L63.82,96.17 L65.18,96.17 L66.55,96.15 L67.91,96.14 L69.28,96.13 L70.64,96.11 L72,96.08 L73.37,96.05 L74.74,96.01 L76.1,95.97 L77.47,95.91 L78.83,95.85 L80.2,95.77 L81.56,95.67 L82.93,95.56 L84.29,95.43 L85.66,95.28 L87.02,95.11 L88.39,94.91 L89.75,94.68 L91.12,94.42 L92.48,94.13 L93.85,93.8 L95.21,93.44 L96.58,93.03 L97.94,92.59 L99.31,92.11 L100.67,91.59 L102.04,91.03 L103.4,90.44 L104.77,89.81 L106.13,89.15 L107.5,88.47 L108.86,87.77 L110.22,87.05 L111.59,86.33 L112.95,85.6 L114.32,84.89 L115.69,84.19 L117.05,83.52 L118.42,82.88 L119.78,82.29 L121.15,81.75 L122.51,81.27 L123.88,80.86 L125.24,80.53 L126.61,80.27 L127.97,80.1 L129.34,80.01 L130.7,80.01 L132.06,80.1 L133.43,80.28 L134.8,80.54 L136.16,80.87 L137.53,81.29 L138.89,81.77 L140.25,82.31 L141.62,82.9 L142.99,83.54 L144.35,84.21 L145.72,84.91 L147.08,85.62 L148.44,86.34 L149.81,87.07 L151.18,87.79 L152.54,88.49 L153.91,89.17 L155.27,89.83 L156.64,90.45 L158,91.05 L159.37,91.6 L160.73,92.12 L162.09,92.6 L163.46,93.04 L164.82,93.45 L166.19,93.81 L167.56,94.14 L168.92,94.43 L170.28,94.69 L171.65,94.92 L173.02,95.11 L174.38,95.29 L175.75,95.44 L177.11,95.57 L178.47,95.68 L179.84,95.77 L181.21,95.85 L182.57,95.91 L183.94,95.97 L185.3,96.01 L185.3,96.2 Z" fill="url(#pk2)"/>
<path d="M21.5,96.2 L22.86,96.2 L24.23,96.2 L25.59,96.2 L26.96,96.2 L28.32,96.2 L29.69,96.2 L31.05,96.2 L32.42,96.2 L33.78,96.2 L35.15,96.2 L36.52,96.2 L37.88,96.2 L39.25,96.2 L40.61,96.2 L41.98,96.2 L43.34,96.2 L44.7,96.2 L46.07,96.2 L47.44,96.2 L48.8,96.2 L50.17,96.2 L51.53,96.2 L52.89,96.2 L54.26,96.2 L55.63,96.19 L56.99,96.19 L58.36,96.19 L59.72,96.19 L61.09,96.18 L62.45,96.18 L63.82,96.17 L65.18,96.17 L66.55,96.15 L67.91,96.14 L69.28,96.13 L70.64,96.11 L72,96.08 L73.37,96.05 L74.74,96.01 L76.1,95.97 L77.47,95.91 L78.83,95.85 L80.2,95.77 L81.56,95.67 L82.93,95.56 L84.29,95.43 L85.66,95.28 L87.02,95.11 L88.39,94.91 L89.75,94.68 L91.12,94.42 L92.48,94.13 L93.85,93.8 L95.21,93.44 L96.58,93.03 L97.94,92.59 L99.31,92.11 L100.67,91.59 L102.04,91.03 L103.4,90.44 L104.77,89.81 L106.13,89.15 L107.5,88.47 L108.86,87.77 L110.22,87.05 L111.59,86.33 L112.95,85.6 L114.32,84.89 L115.69,84.19 L117.05,83.52 L118.42,82.88 L119.78,82.29 L121.15,81.75 L122.51,81.27 L123.88,80.86 L125.24,80.53 L126.61,80.27 L127.97,80.1 L129.34,80.01 L130.7,80.01 L132.06,80.1 L133.43,80.28 L134.8,80.54 L136.16,80.87 L137.53,81.29 L138.89,81.77 L140.25,82.31 L141.62,82.9 L142.99,83.54 L144.35,84.21 L145.72,84.91 L147.08,85.62 L148.44,86.34 L149.81,87.07 L151.18,87.79 L152.54,88.49 L153.91,89.17 L155.27,89.83 L156.64,90.45 L158,91.05 L159.37,91.6 L160.73,92.12 L162.09,92.6 L163.46,93.04 L164.82,93.45 L166.19,93.81 L167.56,94.14 L168.92,94.43 L170.28,94.69 L171.65,94.92 L173.02,95.11 L174.38,95.29 L175.75,95.44 L177.11,95.57 L178.47,95.68 L179.84,95.77 L181.21,95.85 L182.57,95.91 L183.94,95.97 L185.3,96.01" fill="none" stroke="#e01818" stroke-width="0.7"/>
<path d="M21.5,96.2 L21.5,96.2 L22.86,96.2 L24.23,96.2 L25.59,96.2 L26.96,96.2 L28.32,96.2 L29.69,96.2 L31.05,96.2 L32.42,96.2 L33.78,96.2 L35.15,96.2 L36.52,96.2 L37.88,96.2 L39.25,96.2 L40.61,96.2 L41.98,96.2 L43.34,96.2 L44.7,96.2 L46.07,96.2 L47.44,96.2 L48.8,96.2 L50.17,96.2 L51.53,96.2 L52.89,96.2 L54.26,96.2 L55.63,96.2 L56.99,96.2 L58.36,96.2 L59.72,96.2 L61.09,96.2 L62.45,96.2 L63.82,96.2 L65.18,96.2 L66.55,96.2 L67.91,96.2 L69.28,96.2 L70.64,96.2 L72,96.2 L73.37,96.2 L74.74,96.2 L76.1,96.2 L77.47,96.2 L78.83,96.2 L80.2,96.2 L81.56,96.2 L82.93,96.2 L84.29,96.2 L85.66,96.2 L87.02,96.2 L88.39,96.2 L89.75,96.2 L91.12,96.2 L92.48,96.2 L93.85,96.2 L95.21,96.2 L96.58,96.2 L97.94,96.2 L99.31,96.2 L100.67,96.2 L102.04,96.2 L103.4,96.2 L104.77,96.2 L106.13,96.2 L107.5,96.19 L108.86,96.19 L110.22,96.19 L111.59,96.18 L112.95,96.17 L114.32,96.15 L115.69,96.13 L117.05,96.1 L118.42,96.07 L119.78,96.01 L121.15,95.95 L122.51,95.86 L123.88,95.74 L125.24,95.59 L126.61,95.4 L127.97,95.17 L129.34,94.89 L130.7,94.55 L132.06,94.14 L133.43,93.67 L134.8,93.12 L136.16,92.5 L137.53,91.81 L138.89,91.05 L140.25,90.23 L141.62,89.36 L142.99,88.45 L144.35,87.53 L145.72,86.62 L147.08,85.74 L148.44,84.91 L149.81,84.15 L151.18,83.51 L152.54,82.98 L153.91,82.6 L155.27,82.37 L156.64,82.3 L158,82.4 L159.37,82.66 L160.73,83.07 L162.09,83.62 L163.46,84.3 L164.82,85.06 L166.19,85.91 L167.56,86.8 L168.92,87.72 L170.28,88.63 L171.65,89.53 L173.02,90.39 L174.38,91.2 L175.75,91.95 L177.11,92.63 L178.47,93.24 L179.84,93.77 L181.21,94.23 L182.57,94.62 L183.94,94.95 L185.3,95.22 L185.3,96.2 Z" fill="url(#pk3)"/>
<path d="M21.5,96.2 L22.86,96.2 L24.23,96.2 L25.59,96.2 L26.96,96.2 L28.32,96.2 L29.69,96.2 L31.05,96.2 L32.42,96.2 L33.78,96.2 L35.15,96.2 L36.52,96.2 L37.88,96.2 L39.25,96.2 L40.61,96.2 L41.98,96.2 L43.34,96.2 L44.7,96.2 L46.07,96.2 L47.44,96.2 L48.8,96.2 L50.17,96.2 L51.53,96.2 L52.89,96.2 L54.26,96.2 L55.63,96.2 L56.99,96.2 L58.36,96.2 L59.72,96.2 L61.09,96.2 L62.45,96.2 L63.82,96.2 L65.18,96.2 L66.55,96.2 L67.91,96.2 L69.28,96.2 L70.64,96.2 L72,96.2 L73.37,96.2 L74.74,96.2 L76.1,96.2 L77.47,96.2 L78.83,96.2 L80.2,96.2 L81.56,96.2 L82.93,96.2 L84.29,96.2 L85.66,96.2 L87.02,96.2 L88.39,96.2 L89.75,96.2 L91.12,96.2 L92.48,96.2 L93.85,96.2 L95.21,96.2 L96.58,96.2 L97.94,96.2 L99.31,96.2 L100.67,96.2 L102.04,96.2 L103.4,96.2 L104.77,96.2 L106.13,96.2 L107.5,96.19 L108.86,96.19 L110.22,96.19 L111.59,96.18 L112.95,96.17 L114.32,96.15 L115.69,96.13 L117.05,96.1 L118.42,96.07 L119.78,96.01 L121.15,95.95 L122.51,95.86 L123.88,95.74 L125.24,95.59 L126.61,95.4 L127.97,95.17 L129.34,94.89 L130.7,94.55 L132.06,94.14 L133.43,93.67 L134.8,93.12 L136.16,92.5 L137.53,91.81 L138.89,91.05 L140.25,90.23 L141.62,89.36 L142.99,88.45 L144.35,87.53 L145.72,86.62 L147.08,85.74 L148.44,84.91 L149.81,84.15 L151.18,83.51 L152.54,82.98 L153.91,82.6 L155.27,82.37 L156.64,82.3 L158,82.4 L159.37,82.66 L160.73,83.07 L162.09,83.62 L163.46,84.3 L164.82,85.06 L166.19,85.91 L167.56,86.8 L168.92,87.72 L170.28,88.63 L171.65,89.53 L173.02,90.39 L174.38,91.2 L175.75,91.95 L177.11,92.63 L178.47,93.24 L179.84,93.77 L181.21,94.23 L182.57,94.62 L183.94,94.95 L185.3,95.22" fill="none" stroke="#3030ff" stroke-width="0.95"/>
<g fill="#f7effa" stroke="#c08cd6" stroke-width="0.8"><circle cx="21.5" cy="96.1" r="1.3"/><circle cx="23.7" cy="96.1" r="1.3"/><circle cx="25.9" cy="96.12" r="1.3"/><circle cx="28.1" cy="96.14" r="1.3"/><circle cx="30.3" cy="96.15" r="1.3"/><circle cx="32.5" cy="96.17" r="1.3"/><circle cx="34.7" cy="96.19" r="1.3"/><circle cx="36.9" cy="96.2" r="1.3"/><circle cx="39.1" cy="96.21" r="1.3"/><circle cx="41.3" cy="96.22" r="1.3"/><circle cx="43.5" cy="96.23" r="1.3"/><circle cx="45.7" cy="96.23" r="1.3"/><circle cx="47.9" cy="96.23" r="1.3"/><circle cx="50.1" cy="96.22" r="1.3"/><circle cx="52.3" cy="96.2" r="1.3"/><circle cx="54.5" cy="96.17" r="1.3"/><circle cx="56.7" cy="96.12" r="1.3"/><circle cx="58.9" cy="96.05" r="1.3"/><circle cx="61.09" cy="95.93" r="1.3"/><circle cx="63.29" cy="95.74" r="1.3"/><circle cx="65.47" cy="95.45" r="1.3"/><circle cx="67.61" cy="94.96" r="1.3"/><circle cx="69.66" cy="94.17" r="1.3"/><circle cx="71.7" cy="93.34" r="1.3"/><circle cx="73.73" cy="92.51" r="1.3"/><circle cx="75.68" cy="91.48" r="1.3"/><circle cx="77.58" cy="90.38" r="1.3"/><circle cx="79.53" cy="89.37" r="1.3"/><circle cx="81.56" cy="88.52" r="1.3"/><circle cx="83.63" cy="87.76" r="1.3"/><circle cx="85.78" cy="87.33" r="1.3"/><circle cx="87.98" cy="87.4" r="1.3"/><circle cx="90.14" cy="87.81" r="1.3"/><circle cx="92.28" cy="88.32" r="1.3"/><circle cx="94.44" cy="88.73" r="1.3"/><circle cx="96.6" cy="89.11" r="1.3"/><circle cx="98.78" cy="89.38" r="1.3"/><circle cx="100.98" cy="89.26" r="1.3"/><circle cx="103.12" cy="88.78" r="1.3"/><circle cx="105.21" cy="88.1" r="1.3"/><circle cx="107.26" cy="87.29" r="1.3"/><circle cx="109.26" cy="86.38" r="1.3"/><circle cx="111.17" cy="85.29" r="1.3"/><circle cx="113.03" cy="84.1" r="1.3"/><circle cx="114.9" cy="82.95" r="1.3"/><circle cx="116.85" cy="81.93" r="1.3"/><circle cx="118.86" cy="81.03" r="1.3"/><circle cx="120.89" cy="80.2" r="1.3"/><circle cx="122.95" cy="79.42" r="1.3"/><circle cx="125.03" cy="78.71" r="1.3"/><circle cx="127.14" cy="78.07" r="1.3"/><circle cx="129.27" cy="77.53" r="1.3"/><circle cx="131.43" cy="77.13" r="1.3"/><circle cx="133.61" cy="76.8" r="1.3"/><circle cx="135.79" cy="76.5" r="1.3"/><circle cx="137.97" cy="76.23" r="1.3"/><circle cx="140.16" cy="75.98" r="1.3"/><circle cx="142.34" cy="75.75" r="1.3"/><circle cx="144.53" cy="75.56" r="1.3"/><circle cx="146.73" cy="75.42" r="1.3"/><circle cx="148.93" cy="75.4" r="1.3"/><circle cx="151.12" cy="75.56" r="1.3"/><circle cx="153.27" cy="76.05" r="1.3"/><circle cx="155.35" cy="76.74" r="1.3"/><circle cx="157.36" cy="77.65" r="1.3"/><circle cx="159.3" cy="78.69" r="1.3"/><circle cx="161.2" cy="79.79" r="1.3"/><circle cx="163.09" cy="80.92" r="1.3"/><circle cx="164.94" cy="82.11" r="1.3"/><circle cx="166.76" cy="83.35" r="1.3"/><circle cx="168.56" cy="84.61" r="1.3"/><circle cx="170.32" cy="85.93" r="1.3"/><circle cx="172.05" cy="87.28" r="1.3"/><circle cx="173.79" cy="88.63" r="1.3"/><circle cx="175.57" cy="89.92" r="1.3"/><circle cx="177.42" cy="91.12" r="1.3"/><circle cx="179.31" cy="92.25" r="1.3"/><circle cx="181.23" cy="93.32" r="1.3"/><circle cx="183.21" cy="94.26" r="1.3"/></g>
<text x="23.6" y="90.6" font-size="8.45" fill="#1a1a1a" stroke="#1a1a1a" stroke-width="0.15" text-anchor="start" >a-Cu</text>
<text x="163.7" y="76.4" font-size="8.4" fill="#5034f0" stroke="#5034f0" stroke-width="0.15" text-anchor="start" >33.8%</text>
<path d="M21.5,160.5 L21.5,159.14 L22.86,158.93 L24.23,158.69 L25.59,158.42 L26.96,158.11 L28.32,157.78 L29.69,157.4 L31.05,156.99 L32.42,156.54 L33.78,156.05 L35.15,155.52 L36.52,154.94 L37.88,154.31 L39.25,153.64 L40.61,152.93 L41.98,152.18 L43.34,151.38 L44.7,150.54 L46.07,149.67 L47.44,148.76 L48.8,147.82 L50.17,146.86 L51.53,145.88 L52.89,144.89 L54.26,143.89 L55.63,142.89 L56.99,141.9 L58.36,140.92 L59.72,139.97 L61.09,139.06 L62.45,138.18 L63.82,137.36 L65.18,136.59 L66.55,135.88 L67.91,135.25 L69.28,134.7 L70.64,134.24 L72,133.86 L73.37,133.58 L74.74,133.39 L76.1,133.31 L77.47,133.32 L78.83,133.43 L80.2,133.64 L81.56,133.95 L82.93,134.35 L84.29,134.84 L85.66,135.42 L87.02,136.07 L88.39,136.79 L89.75,137.57 L91.12,138.41 L92.48,139.3 L93.85,140.22 L95.21,141.18 L96.58,142.16 L97.94,143.15 L99.31,144.15 L100.67,145.15 L102.04,146.14 L103.4,147.12 L104.77,148.07 L106.13,149 L107.5,149.9 L108.86,150.77 L110.22,151.6 L111.59,152.38 L112.95,153.13 L114.32,153.83 L115.69,154.48 L117.05,155.1 L118.42,155.66 L119.78,156.19 L121.15,156.67 L122.51,157.11 L123.88,157.51 L125.24,157.87 L126.61,158.2 L127.97,158.49 L129.34,158.76 L130.7,158.99 L132.06,159.2 L133.43,159.38 L134.8,159.54 L136.16,159.68 L137.53,159.8 L138.89,159.91 L140.25,160 L141.62,160.08 L142.99,160.15 L144.35,160.21 L145.72,160.26 L147.08,160.3 L148.44,160.33 L149.81,160.36 L151.18,160.39 L152.54,160.41 L153.91,160.43 L155.27,160.44 L156.64,160.45 L158,160.46 L159.37,160.47 L160.73,160.47 L162.09,160.48 L163.46,160.48 L164.82,160.49 L166.19,160.49 L167.56,160.49 L168.92,160.49 L170.28,160.5 L171.65,160.5 L173.02,160.5 L174.38,160.5 L175.75,160.5 L177.11,160.5 L178.47,160.5 L179.84,160.5 L181.21,160.5 L182.57,160.5 L183.94,160.5 L185.3,160.5 L185.3,160.5 Z" fill="url(#pk4)"/>
<path d="M21.5,159.14 L22.86,158.93 L24.23,158.69 L25.59,158.42 L26.96,158.11 L28.32,157.78 L29.69,157.4 L31.05,156.99 L32.42,156.54 L33.78,156.05 L35.15,155.52 L36.52,154.94 L37.88,154.31 L39.25,153.64 L40.61,152.93 L41.98,152.18 L43.34,151.38 L44.7,150.54 L46.07,149.67 L47.44,148.76 L48.8,147.82 L50.17,146.86 L51.53,145.88 L52.89,144.89 L54.26,143.89 L55.63,142.89 L56.99,141.9 L58.36,140.92 L59.72,139.97 L61.09,139.06 L62.45,138.18 L63.82,137.36 L65.18,136.59 L66.55,135.88 L67.91,135.25 L69.28,134.7 L70.64,134.24 L72,133.86 L73.37,133.58 L74.74,133.39 L76.1,133.31 L77.47,133.32 L78.83,133.43 L80.2,133.64 L81.56,133.95 L82.93,134.35 L84.29,134.84 L85.66,135.42 L87.02,136.07 L88.39,136.79 L89.75,137.57 L91.12,138.41 L92.48,139.3 L93.85,140.22 L95.21,141.18 L96.58,142.16 L97.94,143.15 L99.31,144.15 L100.67,145.15 L102.04,146.14 L103.4,147.12 L104.77,148.07 L106.13,149 L107.5,149.9 L108.86,150.77 L110.22,151.6 L111.59,152.38 L112.95,153.13 L114.32,153.83 L115.69,154.48 L117.05,155.1 L118.42,155.66 L119.78,156.19 L121.15,156.67 L122.51,157.11 L123.88,157.51 L125.24,157.87 L126.61,158.2 L127.97,158.49 L129.34,158.76 L130.7,158.99 L132.06,159.2 L133.43,159.38 L134.8,159.54 L136.16,159.68 L137.53,159.8 L138.89,159.91 L140.25,160 L141.62,160.08 L142.99,160.15 L144.35,160.21 L145.72,160.26 L147.08,160.3 L148.44,160.33 L149.81,160.36 L151.18,160.39 L152.54,160.41 L153.91,160.43 L155.27,160.44 L156.64,160.45 L158,160.46 L159.37,160.47 L160.73,160.47 L162.09,160.48 L163.46,160.48 L164.82,160.49 L166.19,160.49 L167.56,160.49 L168.92,160.49 L170.28,160.5 L171.65,160.5 L173.02,160.5 L174.38,160.5 L175.75,160.5 L177.11,160.5 L178.47,160.5 L179.84,160.5 L181.21,160.5 L182.57,160.5 L183.94,160.5 L185.3,160.5" fill="none" stroke="#2a7a20" stroke-width="0.6"/>
<path d="M21.5,160.5 L21.5,160.48 L22.86,160.48 L24.23,160.48 L25.59,160.47 L26.96,160.46 L28.32,160.46 L29.69,160.45 L31.05,160.43 L32.42,160.42 L33.78,160.4 L35.15,160.38 L36.52,160.36 L37.88,160.33 L39.25,160.29 L40.61,160.25 L41.98,160.2 L43.34,160.15 L44.7,160.08 L46.07,160.01 L47.44,159.92 L48.8,159.83 L50.17,159.71 L51.53,159.59 L52.89,159.44 L54.26,159.28 L55.63,159.09 L56.99,158.89 L58.36,158.65 L59.72,158.4 L61.09,158.11 L62.45,157.8 L63.82,157.45 L65.18,157.08 L66.55,156.66 L67.91,156.22 L69.28,155.73 L70.64,155.22 L72,154.66 L73.37,154.07 L74.74,153.44 L76.1,152.77 L77.47,152.07 L78.83,151.34 L80.2,150.58 L81.56,149.79 L82.93,148.98 L84.29,148.15 L85.66,147.31 L87.02,146.45 L88.39,145.59 L89.75,144.72 L91.12,143.87 L92.48,143.03 L93.85,142.2 L95.21,141.4 L96.58,140.64 L97.94,139.91 L99.31,139.23 L100.67,138.6 L102.04,138.03 L103.4,137.52 L104.77,137.07 L106.13,136.7 L107.5,136.41 L108.86,136.19 L110.22,136.05 L111.59,136 L112.95,136.03 L114.32,136.14 L115.69,136.33 L117.05,136.6 L118.42,136.95 L119.78,137.37 L121.15,137.86 L122.51,138.42 L123.88,139.03 L125.24,139.7 L126.61,140.41 L127.97,141.16 L129.34,141.95 L130.7,142.77 L132.06,143.61 L133.43,144.46 L134.8,145.32 L136.16,146.18 L137.53,147.04 L138.89,147.89 L140.25,148.73 L141.62,149.55 L142.99,150.34 L144.35,151.11 L145.72,151.85 L147.08,152.56 L148.44,153.24 L149.81,153.88 L151.18,154.48 L152.54,155.05 L153.91,155.58 L155.27,156.07 L156.64,156.53 L158,156.95 L159.37,157.34 L160.73,157.7 L162.09,158.02 L163.46,158.31 L164.82,158.58 L166.19,158.82 L167.56,159.03 L168.92,159.22 L170.28,159.39 L171.65,159.54 L173.02,159.68 L174.38,159.79 L175.75,159.9 L177.11,159.98 L178.47,160.06 L179.84,160.13 L181.21,160.19 L182.57,160.24 L183.94,160.28 L185.3,160.32 L185.3,160.5 Z" fill="url(#pk5)"/>
<path d="M21.5,160.48 L22.86,160.48 L24.23,160.48 L25.59,160.47 L26.96,160.46 L28.32,160.46 L29.69,160.45 L31.05,160.43 L32.42,160.42 L33.78,160.4 L35.15,160.38 L36.52,160.36 L37.88,160.33 L39.25,160.29 L40.61,160.25 L41.98,160.2 L43.34,160.15 L44.7,160.08 L46.07,160.01 L47.44,159.92 L48.8,159.83 L50.17,159.71 L51.53,159.59 L52.89,159.44 L54.26,159.28 L55.63,159.09 L56.99,158.89 L58.36,158.65 L59.72,158.4 L61.09,158.11 L62.45,157.8 L63.82,157.45 L65.18,157.08 L66.55,156.66 L67.91,156.22 L69.28,155.73 L70.64,155.22 L72,154.66 L73.37,154.07 L74.74,153.44 L76.1,152.77 L77.47,152.07 L78.83,151.34 L80.2,150.58 L81.56,149.79 L82.93,148.98 L84.29,148.15 L85.66,147.31 L87.02,146.45 L88.39,145.59 L89.75,144.72 L91.12,143.87 L92.48,143.03 L93.85,142.2 L95.21,141.4 L96.58,140.64 L97.94,139.91 L99.31,139.23 L100.67,138.6 L102.04,138.03 L103.4,137.52 L104.77,137.07 L106.13,136.7 L107.5,136.41 L108.86,136.19 L110.22,136.05 L111.59,136 L112.95,136.03 L114.32,136.14 L115.69,136.33 L117.05,136.6 L118.42,136.95 L119.78,137.37 L121.15,137.86 L122.51,138.42 L123.88,139.03 L125.24,139.7 L126.61,140.41 L127.97,141.16 L129.34,141.95 L130.7,142.77 L132.06,143.61 L133.43,144.46 L134.8,145.32 L136.16,146.18 L137.53,147.04 L138.89,147.89 L140.25,148.73 L141.62,149.55 L142.99,150.34 L144.35,151.11 L145.72,151.85 L147.08,152.56 L148.44,153.24 L149.81,153.88 L151.18,154.48 L152.54,155.05 L153.91,155.58 L155.27,156.07 L156.64,156.53 L158,156.95 L159.37,157.34 L160.73,157.7 L162.09,158.02 L163.46,158.31 L164.82,158.58 L166.19,158.82 L167.56,159.03 L168.92,159.22 L170.28,159.39 L171.65,159.54 L173.02,159.68 L174.38,159.79 L175.75,159.9 L177.11,159.98 L178.47,160.06 L179.84,160.13 L181.21,160.19 L182.57,160.24 L183.94,160.28 L185.3,160.32" fill="none" stroke="#e01818" stroke-width="0.7"/>
<path d="M21.5,160.5 L21.5,160.5 L22.86,160.5 L24.23,160.5 L25.59,160.5 L26.96,160.5 L28.32,160.5 L29.69,160.5 L31.05,160.5 L32.42,160.5 L33.78,160.5 L35.15,160.5 L36.52,160.5 L37.88,160.5 L39.25,160.5 L40.61,160.5 L41.98,160.5 L43.34,160.5 L44.7,160.5 L46.07,160.5 L47.44,160.5 L48.8,160.5 L50.17,160.5 L51.53,160.5 L52.89,160.5 L54.26,160.5 L55.63,160.5 L56.99,160.5 L58.36,160.5 L59.72,160.5 L61.09,160.5 L62.45,160.5 L63.82,160.5 L65.18,160.5 L66.55,160.5 L67.91,160.5 L69.28,160.5 L70.64,160.5 L72,160.5 L73.37,160.5 L74.74,160.5 L76.1,160.5 L77.47,160.5 L78.83,160.5 L80.2,160.5 L81.56,160.5 L82.93,160.5 L84.29,160.5 L85.66,160.5 L87.02,160.49 L88.39,160.49 L89.75,160.49 L91.12,160.49 L92.48,160.48 L93.85,160.48 L95.21,160.47 L96.58,160.46 L97.94,160.45 L99.31,160.44 L100.67,160.42 L102.04,160.4 L103.4,160.37 L104.77,160.33 L106.13,160.29 L107.5,160.24 L108.86,160.19 L110.22,160.11 L111.59,160.03 L112.95,159.93 L114.32,159.81 L115.69,159.68 L117.05,159.52 L118.42,159.35 L119.78,159.14 L121.15,158.91 L122.51,158.65 L123.88,158.36 L125.24,158.04 L126.61,157.69 L127.97,157.3 L129.34,156.89 L130.7,156.44 L132.06,155.97 L133.43,155.46 L134.8,154.94 L136.16,154.39 L137.53,153.83 L138.89,153.26 L140.25,152.68 L141.62,152.11 L142.99,151.55 L144.35,151.01 L145.72,150.49 L147.08,150 L148.44,149.55 L149.81,149.14 L151.18,148.79 L152.54,148.5 L153.91,148.27 L155.27,148.11 L156.64,148.02 L158,148 L159.37,148.05 L160.73,148.18 L162.09,148.37 L163.46,148.62 L164.82,148.94 L166.19,149.32 L167.56,149.74 L168.92,150.21 L170.28,150.71 L171.65,151.24 L173.02,151.8 L174.38,152.36 L175.75,152.94 L177.11,153.51 L178.47,154.08 L179.84,154.63 L181.21,155.17 L182.57,155.69 L183.94,156.18 L185.3,156.64 L185.3,160.5 Z" fill="url(#pk6)"/>
<path d="M21.5,160.5 L22.86,160.5 L24.23,160.5 L25.59,160.5 L26.96,160.5 L28.32,160.5 L29.69,160.5 L31.05,160.5 L32.42,160.5 L33.78,160.5 L35.15,160.5 L36.52,160.5 L37.88,160.5 L39.25,160.5 L40.61,160.5 L41.98,160.5 L43.34,160.5 L44.7,160.5 L46.07,160.5 L47.44,160.5 L48.8,160.5 L50.17,160.5 L51.53,160.5 L52.89,160.5 L54.26,160.5 L55.63,160.5 L56.99,160.5 L58.36,160.5 L59.72,160.5 L61.09,160.5 L62.45,160.5 L63.82,160.5 L65.18,160.5 L66.55,160.5 L67.91,160.5 L69.28,160.5 L70.64,160.5 L72,160.5 L73.37,160.5 L74.74,160.5 L76.1,160.5 L77.47,160.5 L78.83,160.5 L80.2,160.5 L81.56,160.5 L82.93,160.5 L84.29,160.5 L85.66,160.5 L87.02,160.49 L88.39,160.49 L89.75,160.49 L91.12,160.49 L92.48,160.48 L93.85,160.48 L95.21,160.47 L96.58,160.46 L97.94,160.45 L99.31,160.44 L100.67,160.42 L102.04,160.4 L103.4,160.37 L104.77,160.33 L106.13,160.29 L107.5,160.24 L108.86,160.19 L110.22,160.11 L111.59,160.03 L112.95,159.93 L114.32,159.81 L115.69,159.68 L117.05,159.52 L118.42,159.35 L119.78,159.14 L121.15,158.91 L122.51,158.65 L123.88,158.36 L125.24,158.04 L126.61,157.69 L127.97,157.3 L129.34,156.89 L130.7,156.44 L132.06,155.97 L133.43,155.46 L134.8,154.94 L136.16,154.39 L137.53,153.83 L138.89,153.26 L140.25,152.68 L141.62,152.11 L142.99,151.55 L144.35,151.01 L145.72,150.49 L147.08,150 L148.44,149.55 L149.81,149.14 L151.18,148.79 L152.54,148.5 L153.91,148.27 L155.27,148.11 L156.64,148.02 L158,148 L159.37,148.05 L160.73,148.18 L162.09,148.37 L163.46,148.62 L164.82,148.94 L166.19,149.32 L167.56,149.74 L168.92,150.21 L170.28,150.71 L171.65,151.24 L173.02,151.8 L174.38,152.36 L175.75,152.94 L177.11,153.51 L178.47,154.08 L179.84,154.63 L181.21,155.17 L182.57,155.69 L183.94,156.18 L185.3,156.64" fill="none" stroke="#3030ff" stroke-width="0.95"/>
<g fill="#f7effa" stroke="#c08cd6" stroke-width="0.8"><circle cx="21.2" cy="159.2" r="1.55"/><circle cx="23.56" cy="158.38" r="1.55"/><circle cx="25.92" cy="157.55" r="1.55"/><circle cx="28.26" cy="156.67" r="1.55"/><circle cx="30.55" cy="155.67" r="1.55"/><circle cx="32.77" cy="154.51" r="1.55"/><circle cx="34.9" cy="153.22" r="1.55"/><circle cx="36.99" cy="151.84" r="1.55"/><circle cx="39.06" cy="150.43" r="1.55"/><circle cx="41.12" cy="149.02" r="1.55"/><circle cx="43.2" cy="147.63" r="1.55"/><circle cx="45.3" cy="146.28" r="1.55"/><circle cx="47.42" cy="144.95" r="1.55"/><circle cx="49.53" cy="143.61" r="1.55"/><circle cx="51.64" cy="142.26" r="1.55"/><circle cx="53.72" cy="140.88" r="1.55"/><circle cx="55.77" cy="139.45" r="1.55"/><circle cx="57.78" cy="137.97" r="1.55"/><circle cx="59.77" cy="136.45" r="1.55"/><circle cx="61.74" cy="134.92" r="1.55"/><circle cx="63.72" cy="133.39" r="1.55"/><circle cx="65.73" cy="131.9" r="1.55"/><circle cx="67.77" cy="130.45" r="1.55"/><circle cx="69.81" cy="129.02" r="1.55"/><circle cx="71.88" cy="127.61" r="1.55"/><circle cx="73.97" cy="126.24" r="1.55"/><circle cx="76.11" cy="124.95" r="1.55"/><circle cx="78.33" cy="123.8" r="1.55"/><circle cx="80.67" cy="122.93" r="1.55"/><circle cx="83.1" cy="122.33" r="1.55"/><circle cx="85.54" cy="121.79" r="1.55"/><circle cx="88" cy="121.36" r="1.55"/><circle cx="90.5" cy="121.2" r="1.55"/><circle cx="92.99" cy="121.39" r="1.55"/><circle cx="95.44" cy="121.89" r="1.55"/><circle cx="97.87" cy="122.47" r="1.55"/><circle cx="100.27" cy="123.15" r="1.55"/><circle cx="102.64" cy="123.94" r="1.55"/><circle cx="104.95" cy="124.91" r="1.55"/><circle cx="107.2" cy="125.99" r="1.55"/><circle cx="109.45" cy="127.09" r="1.55"/><circle cx="111.72" cy="128.14" r="1.55"/><circle cx="113.99" cy="129.17" r="1.55"/><circle cx="116.26" cy="130.23" r="1.55"/><circle cx="118.47" cy="131.38" r="1.55"/><circle cx="120.62" cy="132.67" r="1.55"/><circle cx="122.78" cy="133.93" r="1.55"/><circle cx="125.03" cy="135.01" r="1.55"/><circle cx="127.35" cy="135.94" r="1.55"/><circle cx="129.7" cy="136.8" r="1.55"/><circle cx="132.07" cy="137.6" r="1.55"/><circle cx="134.45" cy="138.35" r="1.55"/><circle cx="136.85" cy="139.04" r="1.55"/><circle cx="139.28" cy="139.63" r="1.55"/><circle cx="141.73" cy="140.12" r="1.55"/><circle cx="144.19" cy="140.57" r="1.55"/><circle cx="146.65" cy="141.03" r="1.55"/><circle cx="149.09" cy="141.56" r="1.55"/><circle cx="151.54" cy="142.1" r="1.55"/><circle cx="153.97" cy="142.65" r="1.55"/><circle cx="156.4" cy="143.24" r="1.55"/><circle cx="158.81" cy="143.9" r="1.55"/><circle cx="161.19" cy="144.67" r="1.55"/><circle cx="163.53" cy="145.57" r="1.55"/><circle cx="165.83" cy="146.55" r="1.55"/><circle cx="168.11" cy="147.57" r="1.55"/><circle cx="170.4" cy="148.57" r="1.55"/><circle cx="172.7" cy="149.53" r="1.55"/><circle cx="175" cy="150.53" r="1.55"/><circle cx="177.24" cy="151.63" r="1.55"/><circle cx="179.42" cy="152.86" r="1.55"/><circle cx="181.56" cy="154.14" r="1.55"/><circle cx="183.69" cy="155.45" r="1.55"/></g>
<text x="22.9" y="133.6" font-size="8.45" fill="#1a1a1a" stroke="#1a1a1a" stroke-width="0.15" text-anchor="start" >Ce-a-Cu</text>
<text x="168.3" y="138.7" font-size="8.4" fill="#5034f0" stroke="#5034f0" stroke-width="0.15" text-anchor="start" >14.6%</text>
<path d="M21.5,224.9 L21.5,223.21 L22.86,222.98 L24.23,222.71 L25.59,222.42 L26.96,222.11 L28.32,221.76 L29.69,221.37 L31.05,220.95 L32.42,220.5 L33.78,220.01 L35.15,219.48 L36.52,218.91 L37.88,218.31 L39.25,217.66 L40.61,216.98 L41.98,216.26 L43.34,215.5 L44.7,214.71 L46.07,213.88 L47.44,213.03 L48.8,212.15 L50.17,211.25 L51.53,210.32 L52.89,209.39 L54.26,208.44 L55.63,207.49 L56.99,206.54 L58.36,205.61 L59.72,204.68 L61.09,203.78 L62.45,202.91 L63.82,202.07 L65.18,201.27 L66.55,200.52 L67.91,199.82 L69.28,199.19 L70.64,198.62 L72,198.12 L73.37,197.69 L74.74,197.35 L76.1,197.09 L77.47,196.91 L78.83,196.81 L80.2,196.81 L81.56,196.89 L82.93,197.06 L84.29,197.31 L85.66,197.65 L87.02,198.06 L88.39,198.55 L89.75,199.11 L91.12,199.74 L92.48,200.43 L93.85,201.17 L95.21,201.96 L96.58,202.8 L97.94,203.67 L99.31,204.57 L100.67,205.49 L102.04,206.42 L103.4,207.37 L104.77,208.32 L106.13,209.27 L107.5,210.2 L108.86,211.13 L110.22,212.03 L111.59,212.92 L112.95,213.78 L114.32,214.61 L115.69,215.4 L117.05,216.16 L118.42,216.89 L119.78,217.58 L121.15,218.23 L122.51,218.84 L123.88,219.41 L125.24,219.94 L126.61,220.44 L127.97,220.9 L129.34,221.32 L130.7,221.71 L132.06,222.06 L133.43,222.39 L134.8,222.68 L136.16,222.94 L137.53,223.18 L138.89,223.4 L140.25,223.59 L141.62,223.76 L142.99,223.91 L144.35,224.04 L145.72,224.16 L147.08,224.27 L148.44,224.36 L149.81,224.44 L151.18,224.51 L152.54,224.57 L153.91,224.62 L155.27,224.66 L156.64,224.7 L158,224.73 L159.37,224.76 L160.73,224.78 L162.09,224.8 L163.46,224.82 L164.82,224.83 L166.19,224.85 L167.56,224.86 L168.92,224.86 L170.28,224.87 L171.65,224.88 L173.02,224.88 L174.38,224.88 L175.75,224.89 L177.11,224.89 L178.47,224.89 L179.84,224.89 L181.21,224.89 L182.57,224.9 L183.94,224.9 L185.3,224.9 L185.3,224.9 Z" fill="url(#pk7)"/>
<path d="M21.5,223.21 L22.86,222.98 L24.23,222.71 L25.59,222.42 L26.96,222.11 L28.32,221.76 L29.69,221.37 L31.05,220.95 L32.42,220.5 L33.78,220.01 L35.15,219.48 L36.52,218.91 L37.88,218.31 L39.25,217.66 L40.61,216.98 L41.98,216.26 L43.34,215.5 L44.7,214.71 L46.07,213.88 L47.44,213.03 L48.8,212.15 L50.17,211.25 L51.53,210.32 L52.89,209.39 L54.26,208.44 L55.63,207.49 L56.99,206.54 L58.36,205.61 L59.72,204.68 L61.09,203.78 L62.45,202.91 L63.82,202.07 L65.18,201.27 L66.55,200.52 L67.91,199.82 L69.28,199.19 L70.64,198.62 L72,198.12 L73.37,197.69 L74.74,197.35 L76.1,197.09 L77.47,196.91 L78.83,196.81 L80.2,196.81 L81.56,196.89 L82.93,197.06 L84.29,197.31 L85.66,197.65 L87.02,198.06 L88.39,198.55 L89.75,199.11 L91.12,199.74 L92.48,200.43 L93.85,201.17 L95.21,201.96 L96.58,202.8 L97.94,203.67 L99.31,204.57 L100.67,205.49 L102.04,206.42 L103.4,207.37 L104.77,208.32 L106.13,209.27 L107.5,210.2 L108.86,211.13 L110.22,212.03 L111.59,212.92 L112.95,213.78 L114.32,214.61 L115.69,215.4 L117.05,216.16 L118.42,216.89 L119.78,217.58 L121.15,218.23 L122.51,218.84 L123.88,219.41 L125.24,219.94 L126.61,220.44 L127.97,220.9 L129.34,221.32 L130.7,221.71 L132.06,222.06 L133.43,222.39 L134.8,222.68 L136.16,222.94 L137.53,223.18 L138.89,223.4 L140.25,223.59 L141.62,223.76 L142.99,223.91 L144.35,224.04 L145.72,224.16 L147.08,224.27 L148.44,224.36 L149.81,224.44 L151.18,224.51 L152.54,224.57 L153.91,224.62 L155.27,224.66 L156.64,224.7 L158,224.73 L159.37,224.76 L160.73,224.78 L162.09,224.8 L163.46,224.82 L164.82,224.83 L166.19,224.85 L167.56,224.86 L168.92,224.86 L170.28,224.87 L171.65,224.88 L173.02,224.88 L174.38,224.88 L175.75,224.89 L177.11,224.89 L178.47,224.89 L179.84,224.89 L181.21,224.89 L182.57,224.9 L183.94,224.9 L185.3,224.9" fill="none" stroke="#2a7a20" stroke-width="0.6"/>
<path d="M21.5,224.9 L21.5,224.28 L22.86,224.22 L24.23,224.15 L25.59,224.07 L26.96,223.99 L28.32,223.9 L29.69,223.8 L31.05,223.7 L32.42,223.58 L33.78,223.46 L35.15,223.33 L36.52,223.19 L37.88,223.04 L39.25,222.88 L40.61,222.71 L41.98,222.53 L43.34,222.33 L44.7,222.13 L46.07,221.91 L47.44,221.68 L48.8,221.43 L50.17,221.17 L51.53,220.9 L52.89,220.62 L54.26,220.32 L55.63,220 L56.99,219.67 L58.36,219.33 L59.72,218.97 L61.09,218.6 L62.45,218.21 L63.82,217.81 L65.18,217.4 L66.55,216.97 L67.91,216.53 L69.28,216.07 L70.64,215.61 L72,215.13 L73.37,214.64 L74.74,214.15 L76.1,213.64 L77.47,213.13 L78.83,212.61 L80.2,212.08 L81.56,211.55 L82.93,211.02 L84.29,210.49 L85.66,209.95 L87.02,209.42 L88.39,208.89 L89.75,208.36 L91.12,207.84 L92.48,207.33 L93.85,206.82 L95.21,206.33 L96.58,205.85 L97.94,205.39 L99.31,204.94 L100.67,204.5 L102.04,204.09 L103.4,203.7 L104.77,203.32 L106.13,202.98 L107.5,202.65 L108.86,202.35 L110.22,202.08 L111.59,201.84 L112.95,201.63 L114.32,201.45 L115.69,201.29 L117.05,201.17 L118.42,201.08 L119.78,201.03 L121.15,201 L122.51,201.01 L123.88,201.05 L125.24,201.12 L126.61,201.23 L127.97,201.36 L129.34,201.53 L130.7,201.73 L132.06,201.95 L133.43,202.21 L134.8,202.49 L136.16,202.8 L137.53,203.14 L138.89,203.5 L140.25,203.88 L141.62,204.28 L142.99,204.71 L144.35,205.15 L145.72,205.61 L147.08,206.08 L148.44,206.57 L149.81,207.07 L151.18,207.57 L152.54,208.09 L153.91,208.61 L155.27,209.14 L156.64,209.67 L158,210.21 L159.37,210.74 L160.73,211.28 L162.09,211.81 L163.46,212.34 L164.82,212.86 L166.19,213.38 L167.56,213.89 L168.92,214.39 L170.28,214.88 L171.65,215.36 L173.02,215.83 L174.38,216.29 L175.75,216.74 L177.11,217.18 L178.47,217.6 L179.84,218 L181.21,218.4 L182.57,218.78 L183.94,219.14 L185.3,219.5 L185.3,224.9 Z" fill="url(#pk8)"/>
<path d="M21.5,224.28 L22.86,224.22 L24.23,224.15 L25.59,224.07 L26.96,223.99 L28.32,223.9 L29.69,223.8 L31.05,223.7 L32.42,223.58 L33.78,223.46 L35.15,223.33 L36.52,223.19 L37.88,223.04 L39.25,222.88 L40.61,222.71 L41.98,222.53 L43.34,222.33 L44.7,222.13 L46.07,221.91 L47.44,221.68 L48.8,221.43 L50.17,221.17 L51.53,220.9 L52.89,220.62 L54.26,220.32 L55.63,220 L56.99,219.67 L58.36,219.33 L59.72,218.97 L61.09,218.6 L62.45,218.21 L63.82,217.81 L65.18,217.4 L66.55,216.97 L67.91,216.53 L69.28,216.07 L70.64,215.61 L72,215.13 L73.37,214.64 L74.74,214.15 L76.1,213.64 L77.47,213.13 L78.83,212.61 L80.2,212.08 L81.56,211.55 L82.93,211.02 L84.29,210.49 L85.66,209.95 L87.02,209.42 L88.39,208.89 L89.75,208.36 L91.12,207.84 L92.48,207.33 L93.85,206.82 L95.21,206.33 L96.58,205.85 L97.94,205.39 L99.31,204.94 L100.67,204.5 L102.04,204.09 L103.4,203.7 L104.77,203.32 L106.13,202.98 L107.5,202.65 L108.86,202.35 L110.22,202.08 L111.59,201.84 L112.95,201.63 L114.32,201.45 L115.69,201.29 L117.05,201.17 L118.42,201.08 L119.78,201.03 L121.15,201 L122.51,201.01 L123.88,201.05 L125.24,201.12 L126.61,201.23 L127.97,201.36 L129.34,201.53 L130.7,201.73 L132.06,201.95 L133.43,202.21 L134.8,202.49 L136.16,202.8 L137.53,203.14 L138.89,203.5 L140.25,203.88 L141.62,204.28 L142.99,204.71 L144.35,205.15 L145.72,205.61 L147.08,206.08 L148.44,206.57 L149.81,207.07 L151.18,207.57 L152.54,208.09 L153.91,208.61 L155.27,209.14 L156.64,209.67 L158,210.21 L159.37,210.74 L160.73,211.28 L162.09,211.81 L163.46,212.34 L164.82,212.86 L166.19,213.38 L167.56,213.89 L168.92,214.39 L170.28,214.88 L171.65,215.36 L173.02,215.83 L174.38,216.29 L175.75,216.74 L177.11,217.18 L178.47,217.6 L179.84,218 L181.21,218.4 L182.57,218.78 L183.94,219.14 L185.3,219.5" fill="none" stroke="#e01818" stroke-width="0.7"/>
<path d="M21.5,224.9 L21.5,224.9 L22.86,224.9 L24.23,224.9 L25.59,224.9 L26.96,224.9 L28.32,224.9 L29.69,224.9 L31.05,224.9 L32.42,224.9 L33.78,224.9 L35.15,224.9 L36.52,224.9 L37.88,224.9 L39.25,224.9 L40.61,224.9 L41.98,224.9 L43.34,224.9 L44.7,224.9 L46.07,224.9 L47.44,224.9 L48.8,224.9 L50.17,224.9 L51.53,224.9 L52.89,224.9 L54.26,224.9 L55.63,224.9 L56.99,224.9 L58.36,224.9 L59.72,224.9 L61.09,224.9 L62.45,224.9 L63.82,224.9 L65.18,224.9 L66.55,224.9 L67.91,224.9 L69.28,224.9 L70.64,224.9 L72,224.9 L73.37,224.9 L74.74,224.9 L76.1,224.9 L77.47,224.9 L78.83,224.9 L80.2,224.9 L81.56,224.9 L82.93,224.9 L84.29,224.9 L85.66,224.9 L87.02,224.9 L88.39,224.9 L89.75,224.9 L91.12,224.9 L92.48,224.9 L93.85,224.9 L95.21,224.9 L96.58,224.9 L97.94,224.9 L99.31,224.9 L100.67,224.9 L102.04,224.9 L103.4,224.9 L104.77,224.9 L106.13,224.9 L107.5,224.89 L108.86,224.89 L110.22,224.89 L111.59,224.88 L112.95,224.87 L114.32,224.86 L115.69,224.85 L117.05,224.83 L118.42,224.8 L119.78,224.77 L121.15,224.73 L122.51,224.68 L123.88,224.62 L125.24,224.54 L126.61,224.45 L127.97,224.34 L129.34,224.21 L130.7,224.06 L132.06,223.89 L133.43,223.7 L134.8,223.49 L136.16,223.26 L137.53,223.01 L138.89,222.75 L140.25,222.48 L141.62,222.21 L142.99,221.94 L144.35,221.67 L145.72,221.42 L147.08,221.2 L148.44,221 L149.81,220.84 L151.18,220.71 L152.54,220.63 L153.91,220.6 L155.27,220.61 L156.64,220.67 L158,220.78 L159.37,220.93 L160.73,221.11 L162.09,221.32 L163.46,221.56 L164.82,221.82 L166.19,222.09 L167.56,222.36 L168.92,222.64 L170.28,222.9 L171.65,223.15 L173.02,223.39 L174.38,223.61 L175.75,223.81 L177.11,223.99 L178.47,224.15 L179.84,224.29 L181.21,224.4 L182.57,224.5 L183.94,224.59 L185.3,224.65 L185.3,224.9 Z" fill="url(#pk9)"/>
<path d="M21.5,224.9 L22.86,224.9 L24.23,224.9 L25.59,224.9 L26.96,224.9 L28.32,224.9 L29.69,224.9 L31.05,224.9 L32.42,224.9 L33.78,224.9 L35.15,224.9 L36.52,224.9 L37.88,224.9 L39.25,224.9 L40.61,224.9 L41.98,224.9 L43.34,224.9 L44.7,224.9 L46.07,224.9 L47.44,224.9 L48.8,224.9 L50.17,224.9 L51.53,224.9 L52.89,224.9 L54.26,224.9 L55.63,224.9 L56.99,224.9 L58.36,224.9 L59.72,224.9 L61.09,224.9 L62.45,224.9 L63.82,224.9 L65.18,224.9 L66.55,224.9 L67.91,224.9 L69.28,224.9 L70.64,224.9 L72,224.9 L73.37,224.9 L74.74,224.9 L76.1,224.9 L77.47,224.9 L78.83,224.9 L80.2,224.9 L81.56,224.9 L82.93,224.9 L84.29,224.9 L85.66,224.9 L87.02,224.9 L88.39,224.9 L89.75,224.9 L91.12,224.9 L92.48,224.9 L93.85,224.9 L95.21,224.9 L96.58,224.9 L97.94,224.9 L99.31,224.9 L100.67,224.9 L102.04,224.9 L103.4,224.9 L104.77,224.9 L106.13,224.9 L107.5,224.89 L108.86,224.89 L110.22,224.89 L111.59,224.88 L112.95,224.87 L114.32,224.86 L115.69,224.85 L117.05,224.83 L118.42,224.8 L119.78,224.77 L121.15,224.73 L122.51,224.68 L123.88,224.62 L125.24,224.54 L126.61,224.45 L127.97,224.34 L129.34,224.21 L130.7,224.06 L132.06,223.89 L133.43,223.7 L134.8,223.49 L136.16,223.26 L137.53,223.01 L138.89,222.75 L140.25,222.48 L141.62,222.21 L142.99,221.94 L144.35,221.67 L145.72,221.42 L147.08,221.2 L148.44,221 L149.81,220.84 L151.18,220.71 L152.54,220.63 L153.91,220.6 L155.27,220.61 L156.64,220.67 L158,220.78 L159.37,220.93 L160.73,221.11 L162.09,221.32 L163.46,221.56 L164.82,221.82 L166.19,222.09 L167.56,222.36 L168.92,222.64 L170.28,222.9 L171.65,223.15 L173.02,223.39 L174.38,223.61 L175.75,223.81 L177.11,223.99 L178.47,224.15 L179.84,224.29 L181.21,224.4 L182.57,224.5 L183.94,224.59 L185.3,224.65" fill="none" stroke="#3030ff" stroke-width="0.95"/>
<g fill="#f7effa" stroke="#c08cd6" stroke-width="0.8"><circle cx="21.2" cy="221.7" r="1.6"/><circle cx="23.72" cy="221.04" r="1.6"/><circle cx="26.23" cy="220.39" r="1.6"/><circle cx="28.73" cy="219.68" r="1.6"/><circle cx="31.21" cy="218.88" r="1.6"/><circle cx="33.64" cy="217.97" r="1.6"/><circle cx="36.06" cy="217.02" r="1.6"/><circle cx="38.45" cy="216" r="1.6"/><circle cx="40.8" cy="214.89" r="1.6"/><circle cx="43.1" cy="213.67" r="1.6"/><circle cx="45.33" cy="212.34" r="1.6"/><circle cx="47.51" cy="210.91" r="1.6"/><circle cx="49.64" cy="209.42" r="1.6"/><circle cx="51.72" cy="207.87" r="1.6"/><circle cx="53.78" cy="206.27" r="1.6"/><circle cx="55.8" cy="204.64" r="1.6"/><circle cx="57.78" cy="202.95" r="1.6"/><circle cx="59.71" cy="201.22" r="1.6"/><circle cx="61.63" cy="199.46" r="1.6"/><circle cx="63.53" cy="197.69" r="1.6"/><circle cx="65.44" cy="195.93" r="1.6"/><circle cx="67.39" cy="194.2" r="1.6"/><circle cx="69.36" cy="192.5" r="1.6"/><circle cx="71.37" cy="190.86" r="1.6"/><circle cx="73.44" cy="189.28" r="1.6"/><circle cx="75.51" cy="187.72" r="1.6"/><circle cx="77.72" cy="186.35" r="1.6"/><circle cx="80.04" cy="185.17" r="1.6"/><circle cx="82.39" cy="184.06" r="1.6"/><circle cx="84.82" cy="183.14" r="1.6"/><circle cx="87.35" cy="182.55" r="1.6"/><circle cx="89.94" cy="182.3" r="1.6"/><circle cx="92.54" cy="182.27" r="1.6"/><circle cx="95.13" cy="182.43" r="1.6"/><circle cx="97.71" cy="182.79" r="1.6"/><circle cx="100.24" cy="183.37" r="1.6"/><circle cx="102.69" cy="184.23" r="1.6"/><circle cx="105.06" cy="185.3" r="1.6"/><circle cx="107.38" cy="186.47" r="1.6"/><circle cx="109.7" cy="187.65" r="1.6"/><circle cx="112.05" cy="188.76" r="1.6"/><circle cx="114.46" cy="189.73" r="1.6"/><circle cx="116.9" cy="190.64" r="1.6"/><circle cx="119.35" cy="191.5" r="1.6"/><circle cx="121.81" cy="192.34" r="1.6"/><circle cx="124.28" cy="193.15" r="1.6"/><circle cx="126.76" cy="193.95" r="1.6"/><circle cx="129.24" cy="194.71" r="1.6"/><circle cx="131.74" cy="195.43" r="1.6"/><circle cx="134.24" cy="196.15" r="1.6"/><circle cx="136.74" cy="196.88" r="1.6"/><circle cx="139.22" cy="197.64" r="1.6"/><circle cx="141.69" cy="198.45" r="1.6"/><circle cx="144.16" cy="199.28" r="1.6"/><circle cx="146.61" cy="200.13" r="1.6"/><circle cx="149.06" cy="201" r="1.6"/><circle cx="151.51" cy="201.89" r="1.6"/><circle cx="153.94" cy="202.81" r="1.6"/><circle cx="156.37" cy="203.74" r="1.6"/><circle cx="158.78" cy="204.7" r="1.6"/><circle cx="161.19" cy="205.68" r="1.6"/><circle cx="163.59" cy="206.68" r="1.6"/><circle cx="165.97" cy="207.72" r="1.6"/><circle cx="168.33" cy="208.81" r="1.6"/><circle cx="170.67" cy="209.94" r="1.6"/><circle cx="172.99" cy="211.12" r="1.6"/><circle cx="175.3" cy="212.32" r="1.6"/><circle cx="177.59" cy="213.56" r="1.6"/><circle cx="179.84" cy="214.85" r="1.6"/><circle cx="182.07" cy="216.18" r="1.6"/></g>
<text x="23.9" y="207.8" font-size="8.45" fill="#1a1a1a" stroke="#1a1a1a" stroke-width="0.15" text-anchor="start" >c-Cu</text>
<text x="167.9" y="204.1" font-size="8.4" fill="#5034f0" stroke="#5034f0" stroke-width="0.15" text-anchor="start" >5.2%</text>
<path d="M21.5,293.6 L21.5,292.89 L22.86,292.76 L24.23,292.61 L25.59,292.43 L26.96,292.24 L28.32,292.01 L29.69,291.76 L31.05,291.47 L32.42,291.14 L33.78,290.78 L35.15,290.38 L36.52,289.94 L37.88,289.45 L39.25,288.91 L40.61,288.33 L41.98,287.7 L43.34,287.02 L44.7,286.28 L46.07,285.5 L47.44,284.67 L48.8,283.8 L50.17,282.88 L51.53,281.92 L52.89,280.93 L54.26,279.9 L55.63,278.85 L56.99,277.79 L58.36,276.71 L59.72,275.63 L61.09,274.56 L62.45,273.5 L63.82,272.47 L65.18,271.47 L66.55,270.52 L67.91,269.62 L69.28,268.79 L70.64,268.02 L72,267.34 L73.37,266.75 L74.74,266.25 L76.1,265.85 L77.47,265.56 L78.83,265.37 L80.2,265.3 L81.56,265.34 L82.93,265.49 L84.29,265.75 L85.66,266.12 L87.02,266.59 L88.39,267.15 L89.75,267.81 L91.12,268.55 L92.48,269.36 L93.85,270.24 L95.21,271.18 L96.58,272.16 L97.94,273.19 L99.31,274.24 L100.67,275.31 L102.04,276.38 L103.4,277.46 L104.77,278.53 L106.13,279.59 L107.5,280.62 L108.86,281.63 L110.22,282.6 L111.59,283.53 L112.95,284.42 L114.32,285.26 L115.69,286.06 L117.05,286.8 L118.42,287.5 L119.78,288.15 L121.15,288.74 L122.51,289.29 L123.88,289.8 L125.24,290.25 L126.61,290.67 L127.97,291.04 L129.34,291.37 L130.7,291.67 L132.06,291.94 L133.43,292.17 L134.8,292.38 L136.16,292.56 L137.53,292.71 L138.89,292.85 L140.25,292.97 L141.62,293.07 L142.99,293.16 L144.35,293.23 L145.72,293.29 L147.08,293.35 L148.44,293.39 L149.81,293.43 L151.18,293.46 L152.54,293.49 L153.91,293.51 L155.27,293.53 L156.64,293.54 L158,293.55 L159.37,293.56 L160.73,293.57 L162.09,293.58 L163.46,293.58 L164.82,293.59 L166.19,293.59 L167.56,293.59 L168.92,293.59 L170.28,293.59 L171.65,293.6 L173.02,293.6 L174.38,293.6 L175.75,293.6 L177.11,293.6 L178.47,293.6 L179.84,293.6 L181.21,293.6 L182.57,293.6 L183.94,293.6 L185.3,293.6 L185.3,293.6 Z" fill="url(#pk10)"/>
<path d="M21.5,292.89 L22.86,292.76 L24.23,292.61 L25.59,292.43 L26.96,292.24 L28.32,292.01 L29.69,291.76 L31.05,291.47 L32.42,291.14 L33.78,290.78 L35.15,290.38 L36.52,289.94 L37.88,289.45 L39.25,288.91 L40.61,288.33 L41.98,287.7 L43.34,287.02 L44.7,286.28 L46.07,285.5 L47.44,284.67 L48.8,283.8 L50.17,282.88 L51.53,281.92 L52.89,280.93 L54.26,279.9 L55.63,278.85 L56.99,277.79 L58.36,276.71 L59.72,275.63 L61.09,274.56 L62.45,273.5 L63.82,272.47 L65.18,271.47 L66.55,270.52 L67.91,269.62 L69.28,268.79 L70.64,268.02 L72,267.34 L73.37,266.75 L74.74,266.25 L76.1,265.85 L77.47,265.56 L78.83,265.37 L80.2,265.3 L81.56,265.34 L82.93,265.49 L84.29,265.75 L85.66,266.12 L87.02,266.59 L88.39,267.15 L89.75,267.81 L91.12,268.55 L92.48,269.36 L93.85,270.24 L95.21,271.18 L96.58,272.16 L97.94,273.19 L99.31,274.24 L100.67,275.31 L102.04,276.38 L103.4,277.46 L104.77,278.53 L106.13,279.59 L107.5,280.62 L108.86,281.63 L110.22,282.6 L111.59,283.53 L112.95,284.42 L114.32,285.26 L115.69,286.06 L117.05,286.8 L118.42,287.5 L119.78,288.15 L121.15,288.74 L122.51,289.29 L123.88,289.8 L125.24,290.25 L126.61,290.67 L127.97,291.04 L129.34,291.37 L130.7,291.67 L132.06,291.94 L133.43,292.17 L134.8,292.38 L136.16,292.56 L137.53,292.71 L138.89,292.85 L140.25,292.97 L141.62,293.07 L142.99,293.16 L144.35,293.23 L145.72,293.29 L147.08,293.35 L148.44,293.39 L149.81,293.43 L151.18,293.46 L152.54,293.49 L153.91,293.51 L155.27,293.53 L156.64,293.54 L158,293.55 L159.37,293.56 L160.73,293.57 L162.09,293.58 L163.46,293.58 L164.82,293.59 L166.19,293.59 L167.56,293.59 L168.92,293.59 L170.28,293.59 L171.65,293.6 L173.02,293.6 L174.38,293.6 L175.75,293.6 L177.11,293.6 L178.47,293.6 L179.84,293.6 L181.21,293.6 L182.57,293.6 L183.94,293.6 L185.3,293.6" fill="none" stroke="#2a7a20" stroke-width="0.6"/>
<path d="M21.5,293.6 L21.5,293.6 L22.86,293.6 L24.23,293.6 L25.59,293.6 L26.96,293.6 L28.32,293.6 L29.69,293.6 L31.05,293.6 L32.42,293.59 L33.78,293.59 L35.15,293.59 L36.52,293.59 L37.88,293.58 L39.25,293.58 L40.61,293.57 L41.98,293.57 L43.34,293.56 L44.7,293.55 L46.07,293.54 L47.44,293.53 L48.8,293.51 L50.17,293.49 L51.53,293.47 L52.89,293.44 L54.26,293.41 L55.63,293.37 L56.99,293.33 L58.36,293.27 L59.72,293.21 L61.09,293.14 L62.45,293.06 L63.82,292.96 L65.18,292.85 L66.55,292.73 L67.91,292.58 L69.28,292.42 L70.64,292.23 L72,292.02 L73.37,291.79 L74.74,291.53 L76.1,291.24 L77.47,290.91 L78.83,290.56 L80.2,290.16 L81.56,289.73 L82.93,289.26 L84.29,288.76 L85.66,288.2 L87.02,287.61 L88.39,286.98 L89.75,286.3 L91.12,285.58 L92.48,284.82 L93.85,284.02 L95.21,283.19 L96.58,282.32 L97.94,281.41 L99.31,280.49 L100.67,279.54 L102.04,278.57 L103.4,277.59 L104.77,276.61 L106.13,275.63 L107.5,274.65 L108.86,273.69 L110.22,272.76 L111.59,271.85 L112.95,270.99 L114.32,270.17 L115.69,269.4 L117.05,268.7 L118.42,268.06 L119.78,267.49 L121.15,267.01 L122.51,266.6 L123.88,266.29 L125.24,266.07 L126.61,265.94 L127.97,265.9 L129.34,265.96 L130.7,266.11 L132.06,266.36 L133.43,266.7 L134.8,267.12 L136.16,267.63 L137.53,268.21 L138.89,268.87 L140.25,269.59 L141.62,270.37 L142.99,271.2 L144.35,272.08 L145.72,272.99 L147.08,273.93 L148.44,274.89 L149.81,275.87 L151.18,276.85 L152.54,277.84 L153.91,278.81 L155.27,279.78 L156.64,280.72 L158,281.64 L159.37,282.53 L160.73,283.4 L162.09,284.22 L163.46,285.01 L164.82,285.76 L166.19,286.47 L167.56,287.14 L168.92,287.76 L170.28,288.35 L171.65,288.89 L173.02,289.39 L174.38,289.84 L175.75,290.27 L177.11,290.65 L178.47,291 L179.84,291.31 L181.21,291.6 L182.57,291.85 L183.94,292.08 L185.3,292.28 L185.3,293.6 Z" fill="url(#pk11)"/>
<path d="M21.5,293.6 L22.86,293.6 L24.23,293.6 L25.59,293.6 L26.96,293.6 L28.32,293.6 L29.69,293.6 L31.05,293.6 L32.42,293.59 L33.78,293.59 L35.15,293.59 L36.52,293.59 L37.88,293.58 L39.25,293.58 L40.61,293.57 L41.98,293.57 L43.34,293.56 L44.7,293.55 L46.07,293.54 L47.44,293.53 L48.8,293.51 L50.17,293.49 L51.53,293.47 L52.89,293.44 L54.26,293.41 L55.63,293.37 L56.99,293.33 L58.36,293.27 L59.72,293.21 L61.09,293.14 L62.45,293.06 L63.82,292.96 L65.18,292.85 L66.55,292.73 L67.91,292.58 L69.28,292.42 L70.64,292.23 L72,292.02 L73.37,291.79 L74.74,291.53 L76.1,291.24 L77.47,290.91 L78.83,290.56 L80.2,290.16 L81.56,289.73 L82.93,289.26 L84.29,288.76 L85.66,288.2 L87.02,287.61 L88.39,286.98 L89.75,286.3 L91.12,285.58 L92.48,284.82 L93.85,284.02 L95.21,283.19 L96.58,282.32 L97.94,281.41 L99.31,280.49 L100.67,279.54 L102.04,278.57 L103.4,277.59 L104.77,276.61 L106.13,275.63 L107.5,274.65 L108.86,273.69 L110.22,272.76 L111.59,271.85 L112.95,270.99 L114.32,270.17 L115.69,269.4 L117.05,268.7 L118.42,268.06 L119.78,267.49 L121.15,267.01 L122.51,266.6 L123.88,266.29 L125.24,266.07 L126.61,265.94 L127.97,265.9 L129.34,265.96 L130.7,266.11 L132.06,266.36 L133.43,266.7 L134.8,267.12 L136.16,267.63 L137.53,268.21 L138.89,268.87 L140.25,269.59 L141.62,270.37 L142.99,271.2 L144.35,272.08 L145.72,272.99 L147.08,273.93 L148.44,274.89 L149.81,275.87 L151.18,276.85 L152.54,277.84 L153.91,278.81 L155.27,279.78 L156.64,280.72 L158,281.64 L159.37,282.53 L160.73,283.4 L162.09,284.22 L163.46,285.01 L164.82,285.76 L166.19,286.47 L167.56,287.14 L168.92,287.76 L170.28,288.35 L171.65,288.89 L173.02,289.39 L174.38,289.84 L175.75,290.27 L177.11,290.65 L178.47,291 L179.84,291.31 L181.21,291.6 L182.57,291.85 L183.94,292.08 L185.3,292.28" fill="none" stroke="#e01818" stroke-width="0.7"/>
<path d="M21.5,293.6 L21.5,293.6 L22.86,293.6 L24.23,293.6 L25.59,293.6 L26.96,293.6 L28.32,293.6 L29.69,293.6 L31.05,293.6 L32.42,293.6 L33.78,293.6 L35.15,293.6 L36.52,293.6 L37.88,293.6 L39.25,293.6 L40.61,293.6 L41.98,293.6 L43.34,293.6 L44.7,293.6 L46.07,293.6 L47.44,293.6 L48.8,293.6 L50.17,293.6 L51.53,293.6 L52.89,293.6 L54.26,293.6 L55.63,293.6 L56.99,293.6 L58.36,293.6 L59.72,293.6 L61.09,293.6 L62.45,293.6 L63.82,293.6 L65.18,293.6 L66.55,293.6 L67.91,293.6 L69.28,293.6 L70.64,293.6 L72,293.6 L73.37,293.6 L74.74,293.6 L76.1,293.6 L77.47,293.6 L78.83,293.6 L80.2,293.6 L81.56,293.6 L82.93,293.6 L84.29,293.6 L85.66,293.6 L87.02,293.6 L88.39,293.6 L89.75,293.6 L91.12,293.6 L92.48,293.6 L93.85,293.6 L95.21,293.6 L96.58,293.6 L97.94,293.6 L99.31,293.6 L100.67,293.6 L102.04,293.6 L103.4,293.6 L104.77,293.6 L106.13,293.6 L107.5,293.6 L108.86,293.6 L110.22,293.6 L111.59,293.6 L112.95,293.6 L114.32,293.6 L115.69,293.6 L117.05,293.6 L118.42,293.6 L119.78,293.6 L121.15,293.6 L122.51,293.6 L123.88,293.6 L125.24,293.6 L126.61,293.6 L127.97,293.6 L129.34,293.6 L130.7,293.6 L132.06,293.59 L133.43,293.58 L134.8,293.55 L136.16,293.51 L137.53,293.44 L138.89,293.31 L140.25,293.11 L141.62,292.82 L142.99,292.43 L144.35,291.92 L145.72,291.3 L147.08,290.63 L148.44,289.95 L149.81,289.34 L151.18,288.88 L152.54,288.63 L153.91,288.63 L155.27,288.89 L156.64,289.36 L158,289.97 L159.37,290.65 L160.73,291.33 L162.09,291.93 L163.46,292.44 L164.82,292.83 L166.19,293.12 L167.56,293.31 L168.92,293.44 L170.28,293.51 L171.65,293.56 L173.02,293.58 L174.38,293.59 L175.75,293.6 L177.11,293.6 L178.47,293.6 L179.84,293.6 L181.21,293.6 L182.57,293.6 L183.94,293.6 L185.3,293.6 L185.3,293.6 Z" fill="url(#pk12)"/>
<path d="M21.5,293.6 L22.86,293.6 L24.23,293.6 L25.59,293.6 L26.96,293.6 L28.32,293.6 L29.69,293.6 L31.05,293.6 L32.42,293.6 L33.78,293.6 L35.15,293.6 L36.52,293.6 L37.88,293.6 L39.25,293.6 L40.61,293.6 L41.98,293.6 L43.34,293.6 L44.7,293.6 L46.07,293.6 L47.44,293.6 L48.8,293.6 L50.17,293.6 L51.53,293.6 L52.89,293.6 L54.26,293.6 L55.63,293.6 L56.99,293.6 L58.36,293.6 L59.72,293.6 L61.09,293.6 L62.45,293.6 L63.82,293.6 L65.18,293.6 L66.55,293.6 L67.91,293.6 L69.28,293.6 L70.64,293.6 L72,293.6 L73.37,293.6 L74.74,293.6 L76.1,293.6 L77.47,293.6 L78.83,293.6 L80.2,293.6 L81.56,293.6 L82.93,293.6 L84.29,293.6 L85.66,293.6 L87.02,293.6 L88.39,293.6 L89.75,293.6 L91.12,293.6 L92.48,293.6 L93.85,293.6 L95.21,293.6 L96.58,293.6 L97.94,293.6 L99.31,293.6 L100.67,293.6 L102.04,293.6 L103.4,293.6 L104.77,293.6 L106.13,293.6 L107.5,293.6 L108.86,293.6 L110.22,293.6 L111.59,293.6 L112.95,293.6 L114.32,293.6 L115.69,293.6 L117.05,293.6 L118.42,293.6 L119.78,293.6 L121.15,293.6 L122.51,293.6 L123.88,293.6 L125.24,293.6 L126.61,293.6 L127.97,293.6 L129.34,293.6 L130.7,293.6 L132.06,293.59 L133.43,293.58 L134.8,293.55 L136.16,293.51 L137.53,293.44 L138.89,293.31 L140.25,293.11 L141.62,292.82 L142.99,292.43 L144.35,291.92 L145.72,291.3 L147.08,290.63 L148.44,289.95 L149.81,289.34 L151.18,288.88 L152.54,288.63 L153.91,288.63 L155.27,288.89 L156.64,289.36 L158,289.97 L159.37,290.65 L160.73,291.33 L162.09,291.93 L163.46,292.44 L164.82,292.83 L166.19,293.12 L167.56,293.31 L168.92,293.44 L170.28,293.51 L171.65,293.56 L173.02,293.58 L174.38,293.59 L175.75,293.6 L177.11,293.6 L178.47,293.6 L179.84,293.6 L181.21,293.6 L182.57,293.6 L183.94,293.6 L185.3,293.6" fill="none" stroke="#3030ff" stroke-width="0.95"/>
<g fill="#f7effa" stroke="#c08cd6" stroke-width="0.8"><circle cx="21.2" cy="290.8" r="1.7"/><circle cx="23.81" cy="290.1" r="1.7"/><circle cx="26.41" cy="289.39" r="1.7"/><circle cx="29.01" cy="288.65" r="1.7"/><circle cx="31.58" cy="287.84" r="1.7"/><circle cx="34.13" cy="286.95" r="1.7"/><circle cx="36.66" cy="286" r="1.7"/><circle cx="39.18" cy="285.02" r="1.7"/><circle cx="41.68" cy="284.01" r="1.7"/><circle cx="44.17" cy="282.98" r="1.7"/><circle cx="46.66" cy="281.92" r="1.7"/><circle cx="49.13" cy="280.83" r="1.7"/><circle cx="51.59" cy="279.72" r="1.7"/><circle cx="54.04" cy="278.57" r="1.7"/><circle cx="56.45" cy="277.36" r="1.7"/><circle cx="58.77" cy="275.99" r="1.7"/><circle cx="61.03" cy="274.51" r="1.7"/><circle cx="63.26" cy="272.99" r="1.7"/><circle cx="65.45" cy="271.4" r="1.7"/><circle cx="67.64" cy="269.82" r="1.7"/><circle cx="69.8" cy="268.21" r="1.7"/><circle cx="71.99" cy="266.62" r="1.7"/><circle cx="74.22" cy="265.1" r="1.7"/><circle cx="76.48" cy="263.64" r="1.7"/><circle cx="78.81" cy="262.27" r="1.7"/><circle cx="81.2" cy="261" r="1.7"/><circle cx="83.66" cy="259.9" r="1.7"/><circle cx="86.23" cy="259.08" r="1.7"/><circle cx="88.88" cy="258.57" r="1.7"/><circle cx="91.56" cy="258.23" r="1.7"/><circle cx="94.25" cy="257.96" r="1.7"/><circle cx="96.94" cy="257.78" r="1.7"/><circle cx="99.64" cy="257.7" r="1.7"/><circle cx="102.34" cy="257.75" r="1.7"/><circle cx="105.03" cy="257.92" r="1.7"/><circle cx="107.72" cy="258.2" r="1.7"/><circle cx="110.39" cy="258.56" r="1.7"/><circle cx="113.06" cy="259" r="1.7"/><circle cx="115.71" cy="259.51" r="1.7"/><circle cx="118.35" cy="260.06" r="1.7"/><circle cx="120.99" cy="260.64" r="1.7"/><circle cx="123.62" cy="261.24" r="1.7"/><circle cx="126.25" cy="261.87" r="1.7"/><circle cx="128.86" cy="262.53" r="1.7"/><circle cx="131.47" cy="263.24" r="1.7"/><circle cx="134.06" cy="264" r="1.7"/><circle cx="136.64" cy="264.79" r="1.7"/><circle cx="139.21" cy="265.62" r="1.7"/><circle cx="141.76" cy="266.52" r="1.7"/><circle cx="144.27" cy="267.5" r="1.7"/><circle cx="146.75" cy="268.57" r="1.7"/><circle cx="149.2" cy="269.71" r="1.7"/><circle cx="151.61" cy="270.91" r="1.7"/><circle cx="154" cy="272.17" r="1.7"/><circle cx="156.36" cy="273.5" r="1.7"/><circle cx="158.61" cy="274.98" r="1.7"/><circle cx="160.67" cy="276.72" r="1.7"/><circle cx="162.71" cy="278.49" r="1.7"/><circle cx="164.8" cy="280.2" r="1.7"/><circle cx="166.9" cy="281.89" r="1.7"/><circle cx="169.09" cy="283.48" r="1.7"/><circle cx="171.37" cy="284.93" r="1.7"/><circle cx="173.72" cy="286.25" r="1.7"/><circle cx="176.16" cy="287.4" r="1.7"/><circle cx="178.68" cy="288.38" r="1.7"/><circle cx="181.22" cy="289.3" r="1.7"/><circle cx="183.79" cy="290.12" r="1.7"/></g>
<text x="23.7" y="275.6" font-size="8.45" fill="#1a1a1a" stroke="#1a1a1a" stroke-width="0.15" text-anchor="start" >d-Cu</text>
<text x="167.7" y="278.6" font-size="8.4" fill="#5034f0" stroke="#5034f0" stroke-width="0.15" text-anchor="start" >4.1%</text>
<path d="M21.5,358.4 L21.5,358.34 L22.86,358.31 L24.23,358.28 L25.59,358.24 L26.96,358.19 L28.32,358.13 L29.69,358.05 L31.05,357.94 L32.42,357.82 L33.78,357.66 L35.15,357.46 L36.52,357.22 L37.88,356.94 L39.25,356.59 L40.61,356.18 L41.98,355.7 L43.34,355.14 L44.7,354.49 L46.07,353.75 L47.44,352.91 L48.8,351.96 L50.17,350.9 L51.53,349.74 L52.89,348.48 L54.26,347.11 L55.63,345.65 L56.99,344.1 L58.36,342.49 L59.72,340.83 L61.09,339.14 L62.45,337.44 L63.82,335.77 L65.18,334.14 L66.55,332.59 L67.91,331.14 L69.28,329.83 L70.64,328.68 L72,327.7 L73.37,326.94 L74.74,326.39 L76.1,326.08 L77.47,326 L78.83,326.17 L80.2,326.58 L81.56,327.21 L82.93,328.06 L84.29,329.1 L85.66,330.32 L87.02,331.69 L88.39,333.18 L89.75,334.77 L91.12,336.42 L92.48,338.1 L93.85,339.8 L95.21,341.48 L96.58,343.12 L97.94,344.71 L99.31,346.22 L100.67,347.65 L102.04,348.98 L103.4,350.21 L104.77,351.33 L106.13,352.34 L107.5,353.25 L108.86,354.05 L110.22,354.75 L111.59,355.37 L112.95,355.9 L114.32,356.35 L115.69,356.73 L117.05,357.05 L118.42,357.32 L119.78,357.54 L121.15,357.72 L122.51,357.87 L123.88,357.99 L125.24,358.08 L126.61,358.16 L127.97,358.21 L129.34,358.26 L130.7,358.3 L132.06,358.32 L133.43,358.34 L134.8,358.36 L136.16,358.37 L137.53,358.38 L138.89,358.38 L140.25,358.39 L141.62,358.39 L142.99,358.39 L144.35,358.4 L145.72,358.4 L147.08,358.4 L148.44,358.4 L149.81,358.4 L151.18,358.4 L152.54,358.4 L153.91,358.4 L155.27,358.4 L156.64,358.4 L158,358.4 L159.37,358.4 L160.73,358.4 L162.09,358.4 L163.46,358.4 L164.82,358.4 L166.19,358.4 L167.56,358.4 L168.92,358.4 L170.28,358.4 L171.65,358.4 L173.02,358.4 L174.38,358.4 L175.75,358.4 L177.11,358.4 L178.47,358.4 L179.84,358.4 L181.21,358.4 L182.57,358.4 L183.94,358.4 L185.3,358.4 L185.3,358.4 Z" fill="url(#pk13)"/>
<path d="M21.5,358.34 L22.86,358.31 L24.23,358.28 L25.59,358.24 L26.96,358.19 L28.32,358.13 L29.69,358.05 L31.05,357.94 L32.42,357.82 L33.78,357.66 L35.15,357.46 L36.52,357.22 L37.88,356.94 L39.25,356.59 L40.61,356.18 L41.98,355.7 L43.34,355.14 L44.7,354.49 L46.07,353.75 L47.44,352.91 L48.8,351.96 L50.17,350.9 L51.53,349.74 L52.89,348.48 L54.26,347.11 L55.63,345.65 L56.99,344.1 L58.36,342.49 L59.72,340.83 L61.09,339.14 L62.45,337.44 L63.82,335.77 L65.18,334.14 L66.55,332.59 L67.91,331.14 L69.28,329.83 L70.64,328.68 L72,327.7 L73.37,326.94 L74.74,326.39 L76.1,326.08 L77.47,326 L78.83,326.17 L80.2,326.58 L81.56,327.21 L82.93,328.06 L84.29,329.1 L85.66,330.32 L87.02,331.69 L88.39,333.18 L89.75,334.77 L91.12,336.42 L92.48,338.1 L93.85,339.8 L95.21,341.48 L96.58,343.12 L97.94,344.71 L99.31,346.22 L100.67,347.65 L102.04,348.98 L103.4,350.21 L104.77,351.33 L106.13,352.34 L107.5,353.25 L108.86,354.05 L110.22,354.75 L111.59,355.37 L112.95,355.9 L114.32,356.35 L115.69,356.73 L117.05,357.05 L118.42,357.32 L119.78,357.54 L121.15,357.72 L122.51,357.87 L123.88,357.99 L125.24,358.08 L126.61,358.16 L127.97,358.21 L129.34,358.26 L130.7,358.3 L132.06,358.32 L133.43,358.34 L134.8,358.36 L136.16,358.37 L137.53,358.38 L138.89,358.38 L140.25,358.39 L141.62,358.39 L142.99,358.39 L144.35,358.4 L145.72,358.4 L147.08,358.4 L148.44,358.4 L149.81,358.4 L151.18,358.4 L152.54,358.4 L153.91,358.4 L155.27,358.4 L156.64,358.4 L158,358.4 L159.37,358.4 L160.73,358.4 L162.09,358.4 L163.46,358.4 L164.82,358.4 L166.19,358.4 L167.56,358.4 L168.92,358.4 L170.28,358.4 L171.65,358.4 L173.02,358.4 L174.38,358.4 L175.75,358.4 L177.11,358.4 L178.47,358.4 L179.84,358.4 L181.21,358.4 L182.57,358.4 L183.94,358.4 L185.3,358.4" fill="none" stroke="#2a7a20" stroke-width="0.6"/>
<path d="M21.5,358.4 L21.5,358.4 L22.86,358.4 L24.23,358.4 L25.59,358.4 L26.96,358.4 L28.32,358.39 L29.69,358.39 L31.05,358.39 L32.42,358.39 L33.78,358.38 L35.15,358.38 L36.52,358.37 L37.88,358.37 L39.25,358.36 L40.61,358.34 L41.98,358.33 L43.34,358.31 L44.7,358.29 L46.07,358.27 L47.44,358.23 L48.8,358.2 L50.17,358.15 L51.53,358.1 L52.89,358.03 L54.26,357.95 L55.63,357.86 L56.99,357.75 L58.36,357.63 L59.72,357.48 L61.09,357.31 L62.45,357.11 L63.82,356.88 L65.18,356.62 L66.55,356.33 L67.91,355.99 L69.28,355.61 L70.64,355.19 L72,354.72 L73.37,354.19 L74.74,353.61 L76.1,352.97 L77.47,352.27 L78.83,351.51 L80.2,350.69 L81.56,349.81 L82.93,348.86 L84.29,347.85 L85.66,346.78 L87.02,345.66 L88.39,344.49 L89.75,343.27 L91.12,342.01 L92.48,340.72 L93.85,339.4 L95.21,338.07 L96.58,336.74 L97.94,335.42 L99.31,334.11 L100.67,332.83 L102.04,331.6 L103.4,330.43 L104.77,329.32 L106.13,328.29 L107.5,327.35 L108.86,326.52 L110.22,325.79 L111.59,325.19 L112.95,324.71 L114.32,324.37 L115.69,324.17 L117.05,324.1 L118.42,324.18 L119.78,324.39 L121.15,324.74 L122.51,325.23 L123.88,325.84 L125.24,326.57 L126.61,327.42 L127.97,328.36 L129.34,329.4 L130.7,330.51 L132.06,331.69 L133.43,332.93 L134.8,334.2 L136.16,335.51 L137.53,336.84 L138.89,338.17 L140.25,339.5 L141.62,340.81 L142.99,342.1 L144.35,343.36 L145.72,344.58 L147.08,345.75 L148.44,346.86 L149.81,347.93 L151.18,348.93 L152.54,349.87 L153.91,350.75 L155.27,351.57 L156.64,352.33 L158,353.02 L159.37,353.65 L160.73,354.23 L162.09,354.75 L163.46,355.22 L164.82,355.64 L166.19,356.02 L167.56,356.35 L168.92,356.64 L170.28,356.9 L171.65,357.12 L173.02,357.32 L174.38,357.49 L175.75,357.64 L177.11,357.76 L178.47,357.87 L179.84,357.96 L181.21,358.04 L182.57,358.1 L183.94,358.15 L185.3,358.2 L185.3,358.4 Z" fill="url(#pk14)"/>
<path d="M21.5,358.4 L22.86,358.4 L24.23,358.4 L25.59,358.4 L26.96,358.4 L28.32,358.39 L29.69,358.39 L31.05,358.39 L32.42,358.39 L33.78,358.38 L35.15,358.38 L36.52,358.37 L37.88,358.37 L39.25,358.36 L40.61,358.34 L41.98,358.33 L43.34,358.31 L44.7,358.29 L46.07,358.27 L47.44,358.23 L48.8,358.2 L50.17,358.15 L51.53,358.1 L52.89,358.03 L54.26,357.95 L55.63,357.86 L56.99,357.75 L58.36,357.63 L59.72,357.48 L61.09,357.31 L62.45,357.11 L63.82,356.88 L65.18,356.62 L66.55,356.33 L67.91,355.99 L69.28,355.61 L70.64,355.19 L72,354.72 L73.37,354.19 L74.74,353.61 L76.1,352.97 L77.47,352.27 L78.83,351.51 L80.2,350.69 L81.56,349.81 L82.93,348.86 L84.29,347.85 L85.66,346.78 L87.02,345.66 L88.39,344.49 L89.75,343.27 L91.12,342.01 L92.48,340.72 L93.85,339.4 L95.21,338.07 L96.58,336.74 L97.94,335.42 L99.31,334.11 L100.67,332.83 L102.04,331.6 L103.4,330.43 L104.77,329.32 L106.13,328.29 L107.5,327.35 L108.86,326.52 L110.22,325.79 L111.59,325.19 L112.95,324.71 L114.32,324.37 L115.69,324.17 L117.05,324.1 L118.42,324.18 L119.78,324.39 L121.15,324.74 L122.51,325.23 L123.88,325.84 L125.24,326.57 L126.61,327.42 L127.97,328.36 L129.34,329.4 L130.7,330.51 L132.06,331.69 L133.43,332.93 L134.8,334.2 L136.16,335.51 L137.53,336.84 L138.89,338.17 L140.25,339.5 L141.62,340.81 L142.99,342.1 L144.35,343.36 L145.72,344.58 L147.08,345.75 L148.44,346.86 L149.81,347.93 L151.18,348.93 L152.54,349.87 L153.91,350.75 L155.27,351.57 L156.64,352.33 L158,353.02 L159.37,353.65 L160.73,354.23 L162.09,354.75 L163.46,355.22 L164.82,355.64 L166.19,356.02 L167.56,356.35 L168.92,356.64 L170.28,356.9 L171.65,357.12 L173.02,357.32 L174.38,357.49 L175.75,357.64 L177.11,357.76 L178.47,357.87 L179.84,357.96 L181.21,358.04 L182.57,358.1 L183.94,358.15 L185.3,358.2" fill="none" stroke="#e01818" stroke-width="0.7"/>
<path d="M21.5,358.4 L21.5,358.4 L22.86,358.4 L24.23,358.4 L25.59,358.4 L26.96,358.4 L28.32,358.4 L29.69,358.4 L31.05,358.4 L32.42,358.4 L33.78,358.4 L35.15,358.4 L36.52,358.4 L37.88,358.4 L39.25,358.4 L40.61,358.4 L41.98,358.4 L43.34,358.4 L44.7,358.4 L46.07,358.4 L47.44,358.4 L48.8,358.4 L50.17,358.4 L51.53,358.4 L52.89,358.4 L54.26,358.4 L55.63,358.4 L56.99,358.4 L58.36,358.4 L59.72,358.4 L61.09,358.4 L62.45,358.4 L63.82,358.4 L65.18,358.4 L66.55,358.4 L67.91,358.4 L69.28,358.4 L70.64,358.4 L72,358.4 L73.37,358.4 L74.74,358.4 L76.1,358.4 L77.47,358.4 L78.83,358.4 L80.2,358.4 L81.56,358.4 L82.93,358.4 L84.29,358.4 L85.66,358.4 L87.02,358.4 L88.39,358.4 L89.75,358.4 L91.12,358.4 L92.48,358.4 L93.85,358.4 L95.21,358.4 L96.58,358.4 L97.94,358.4 L99.31,358.4 L100.67,358.4 L102.04,358.4 L103.4,358.4 L104.77,358.4 L106.13,358.4 L107.5,358.4 L108.86,358.4 L110.22,358.4 L111.59,358.4 L112.95,358.4 L114.32,358.4 L115.69,358.4 L117.05,358.4 L118.42,358.4 L119.78,358.4 L121.15,358.4 L122.51,358.4 L123.88,358.4 L125.24,358.4 L126.61,358.4 L127.97,358.4 L129.34,358.39 L130.7,358.38 L132.06,358.37 L133.43,358.35 L134.8,358.31 L136.16,358.26 L137.53,358.18 L138.89,358.06 L140.25,357.9 L141.62,357.68 L142.99,357.4 L144.35,357.06 L145.72,356.66 L147.08,356.21 L148.44,355.74 L149.81,355.27 L151.18,354.84 L152.54,354.49 L153.91,354.24 L155.27,354.11 L156.64,354.13 L158,354.28 L159.37,354.56 L160.73,354.94 L162.09,355.38 L163.46,355.85 L164.82,356.32 L166.19,356.75 L167.56,357.14 L168.92,357.47 L170.28,357.73 L171.65,357.94 L173.02,358.09 L174.38,358.2 L175.75,358.27 L177.11,358.32 L178.47,358.36 L179.84,358.37 L181.21,358.39 L182.57,358.39 L183.94,358.4 L185.3,358.4 L185.3,358.4 Z" fill="url(#pk15)"/>
<path d="M21.5,358.4 L22.86,358.4 L24.23,358.4 L25.59,358.4 L26.96,358.4 L28.32,358.4 L29.69,358.4 L31.05,358.4 L32.42,358.4 L33.78,358.4 L35.15,358.4 L36.52,358.4 L37.88,358.4 L39.25,358.4 L40.61,358.4 L41.98,358.4 L43.34,358.4 L44.7,358.4 L46.07,358.4 L47.44,358.4 L48.8,358.4 L50.17,358.4 L51.53,358.4 L52.89,358.4 L54.26,358.4 L55.63,358.4 L56.99,358.4 L58.36,358.4 L59.72,358.4 L61.09,358.4 L62.45,358.4 L63.82,358.4 L65.18,358.4 L66.55,358.4 L67.91,358.4 L69.28,358.4 L70.64,358.4 L72,358.4 L73.37,358.4 L74.74,358.4 L76.1,358.4 L77.47,358.4 L78.83,358.4 L80.2,358.4 L81.56,358.4 L82.93,358.4 L84.29,358.4 L85.66,358.4 L87.02,358.4 L88.39,358.4 L89.75,358.4 L91.12,358.4 L92.48,358.4 L93.85,358.4 L95.21,358.4 L96.58,358.4 L97.94,358.4 L99.31,358.4 L100.67,358.4 L102.04,358.4 L103.4,358.4 L104.77,358.4 L106.13,358.4 L107.5,358.4 L108.86,358.4 L110.22,358.4 L111.59,358.4 L112.95,358.4 L114.32,358.4 L115.69,358.4 L117.05,358.4 L118.42,358.4 L119.78,358.4 L121.15,358.4 L122.51,358.4 L123.88,358.4 L125.24,358.4 L126.61,358.4 L127.97,358.4 L129.34,358.39 L130.7,358.38 L132.06,358.37 L133.43,358.35 L134.8,358.31 L136.16,358.26 L137.53,358.18 L138.89,358.06 L140.25,357.9 L141.62,357.68 L142.99,357.4 L144.35,357.06 L145.72,356.66 L147.08,356.21 L148.44,355.74 L149.81,355.27 L151.18,354.84 L152.54,354.49 L153.91,354.24 L155.27,354.11 L156.64,354.13 L158,354.28 L159.37,354.56 L160.73,354.94 L162.09,355.38 L163.46,355.85 L164.82,356.32 L166.19,356.75 L167.56,357.14 L168.92,357.47 L170.28,357.73 L171.65,357.94 L173.02,358.09 L174.38,358.2 L175.75,358.27 L177.11,358.32 L178.47,358.36 L179.84,358.37 L181.21,358.39 L182.57,358.39 L183.94,358.4 L185.3,358.4" fill="none" stroke="#3030ff" stroke-width="0.95"/>
<g fill="#f7effa" stroke="#c08cd6" stroke-width="0.8"><circle cx="21.3" cy="357.3" r="1.75"/><circle cx="24.01" cy="356.61" r="1.75"/><circle cx="26.73" cy="355.93" r="1.75"/><circle cx="29.43" cy="355.19" r="1.75"/><circle cx="32.1" cy="354.35" r="1.75"/><circle cx="34.73" cy="353.38" r="1.75"/><circle cx="37.32" cy="352.32" r="1.75"/><circle cx="39.88" cy="351.19" r="1.75"/><circle cx="42.43" cy="350.02" r="1.75"/><circle cx="44.94" cy="348.8" r="1.75"/><circle cx="47.42" cy="347.49" r="1.75"/><circle cx="49.81" cy="346.03" r="1.75"/><circle cx="52" cy="344.3" r="1.75"/><circle cx="54.05" cy="342.39" r="1.75"/><circle cx="55.93" cy="340.31" r="1.75"/><circle cx="57.75" cy="338.18" r="1.75"/><circle cx="59.6" cy="336.08" r="1.75"/><circle cx="61.47" cy="334" r="1.75"/><circle cx="63.34" cy="331.91" r="1.75"/><circle cx="65.25" cy="329.87" r="1.75"/><circle cx="67.23" cy="327.88" r="1.75"/><circle cx="69.25" cy="325.95" r="1.75"/><circle cx="71.35" cy="324.1" r="1.75"/><circle cx="73.57" cy="322.39" r="1.75"/><circle cx="75.91" cy="320.85" r="1.75"/><circle cx="78.37" cy="319.53" r="1.75"/><circle cx="80.97" cy="318.49" r="1.75"/><circle cx="83.68" cy="317.77" r="1.75"/><circle cx="86.43" cy="317.29" r="1.75"/><circle cx="89.21" cy="316.97" r="1.75"/><circle cx="92.01" cy="316.83" r="1.75"/><circle cx="94.81" cy="316.81" r="1.75"/><circle cx="97.61" cy="316.91" r="1.75"/><circle cx="100.4" cy="317.06" r="1.75"/><circle cx="103.2" cy="317.24" r="1.75"/><circle cx="105.99" cy="317.4" r="1.75"/><circle cx="108.78" cy="317.65" r="1.75"/><circle cx="111.51" cy="318.26" r="1.75"/><circle cx="114.22" cy="318.99" r="1.75"/><circle cx="116.88" cy="319.84" r="1.75"/><circle cx="119.48" cy="320.88" r="1.75"/><circle cx="121.92" cy="322.25" r="1.75"/><circle cx="124.22" cy="323.85" r="1.75"/><circle cx="126.45" cy="325.54" r="1.75"/><circle cx="128.63" cy="327.29" r="1.75"/><circle cx="130.75" cy="329.12" r="1.75"/><circle cx="132.87" cy="330.95" r="1.75"/><circle cx="135.01" cy="332.76" r="1.75"/><circle cx="137.16" cy="334.56" r="1.75"/><circle cx="139.32" cy="336.34" r="1.75"/><circle cx="141.51" cy="338.07" r="1.75"/><circle cx="143.73" cy="339.78" r="1.75"/><circle cx="145.99" cy="341.43" r="1.75"/><circle cx="148.32" cy="343" r="1.75"/><circle cx="150.71" cy="344.45" r="1.75"/><circle cx="153.15" cy="345.82" r="1.75"/><circle cx="155.62" cy="347.15" r="1.75"/><circle cx="158.11" cy="348.42" r="1.75"/><circle cx="160.63" cy="349.64" r="1.75"/><circle cx="163.17" cy="350.82" r="1.75"/><circle cx="165.72" cy="351.97" r="1.75"/><circle cx="168.33" cy="352.98" r="1.75"/><circle cx="171.03" cy="353.74" r="1.75"/><circle cx="173.76" cy="354.34" r="1.75"/><circle cx="176.5" cy="354.95" r="1.75"/><circle cx="179.23" cy="355.55" r="1.75"/><circle cx="181.97" cy="356.15" r="1.75"/></g>
<text x="23.3" y="338" font-size="8.45" fill="#1a1a1a" stroke="#1a1a1a" stroke-width="0.15" text-anchor="start" >Ce-d-Cu</text>
<text x="167.7" y="344.4" font-size="8.4" fill="#5034f0" stroke="#5034f0" stroke-width="0.15" text-anchor="start" >2.5%</text>
<line x1="21.5" y1="363.7" x2="186" y2="363.7" stroke="#8a8a8a" stroke-width="1.3" />
<line x1="32.1" y1="363.7" x2="32.1" y2="366.8" stroke="#666" stroke-width="0.8" />
<text x="32.1" y="375.2" font-size="6.9" fill="#222" stroke="#222" stroke-width="0.15" text-anchor="middle" >3000</text>
<line x1="52.47" y1="363.7" x2="52.47" y2="366.8" stroke="#666" stroke-width="0.8" />
<text x="52.47" y="375.2" font-size="6.9" fill="#222" stroke="#222" stroke-width="0.15" text-anchor="middle" >3100</text>
<line x1="72.84" y1="363.7" x2="72.84" y2="366.8" stroke="#666" stroke-width="0.8" />
<text x="72.84" y="375.2" font-size="6.9" fill="#222" stroke="#222" stroke-width="0.15" text-anchor="middle" >3200</text>
<line x1="93.21" y1="363.7" x2="93.21" y2="366.8" stroke="#666" stroke-width="0.8" />
<text x="93.21" y="375.2" font-size="6.9" fill="#222" stroke="#222" stroke-width="0.15" text-anchor="middle" >3300</text>
<line x1="113.58" y1="363.7" x2="113.58" y2="366.8" stroke="#666" stroke-width="0.8" />
<text x="113.58" y="375.2" font-size="6.9" fill="#222" stroke="#222" stroke-width="0.15" text-anchor="middle" >3400</text>
<line x1="133.95" y1="363.7" x2="133.95" y2="366.8" stroke="#666" stroke-width="0.8" />
<text x="133.95" y="375.2" font-size="6.9" fill="#222" stroke="#222" stroke-width="0.15" text-anchor="middle" >3500</text>
<line x1="154.32" y1="363.7" x2="154.32" y2="366.8" stroke="#666" stroke-width="0.8" />
<text x="154.32" y="375.2" font-size="6.9" fill="#222" stroke="#222" stroke-width="0.15" text-anchor="middle" >3600</text>
<line x1="174.69" y1="363.7" x2="174.69" y2="366.8" stroke="#666" stroke-width="0.8" />
<text x="174.69" y="375.2" font-size="6.9" fill="#222" stroke="#222" stroke-width="0.15" text-anchor="middle" >3700</text>
<text x="103.1" y="393.3" font-size="10.1" fill="#222" text-anchor="middle" stroke="#222" stroke-width="0.15">Wavenumber (cm<tspan font-size="6" dy="-3.8">-1</tspan><tspan dy="3.8">)</tspan></text>
<text transform="translate(9.2,203) rotate(-90)" font-size="10.5" fill="#222" text-anchor="middle" stroke="#222" stroke-width="0.15">Intensity (a.u.)</text>
<text x="204.9" y="8.9" font-size="10.6" fill="#111" stroke="#111" stroke-width="0.15" text-anchor="start" >b</text>
<line x1="234" y1="19" x2="419.8" y2="19" stroke="#555" stroke-width="1.05" />
<line x1="234" y1="168" x2="419.8" y2="168" stroke="#555" stroke-width="1.05" />
<line x1="419.3" y1="19" x2="419.3" y2="168" stroke="#555" stroke-width="1.0" />
<line x1="234.5" y1="19" x2="234.5" y2="168" stroke="#555" stroke-width="1.0" />
<line x1="231.7" y1="168" x2="234.5" y2="168" stroke="#555" stroke-width="0.9" />
<text x="230.7" y="170.4" font-size="6.9" fill="#222" stroke="#222" stroke-width="0.15" text-anchor="end" >0</text>
<line x1="231.7" y1="151.44" x2="234.5" y2="151.44" stroke="#555" stroke-width="0.9" />
<text x="230.7" y="153.84" font-size="6.9" fill="#222" stroke="#222" stroke-width="0.15" text-anchor="end" >5</text>
<line x1="231.7" y1="134.89" x2="234.5" y2="134.89" stroke="#555" stroke-width="0.9" />
<text x="230.7" y="137.29" font-size="6.9" fill="#222" stroke="#222" stroke-width="0.15" text-anchor="end" >10</text>
<line x1="231.7" y1="118.33" x2="234.5" y2="118.33" stroke="#555" stroke-width="0.9" />
<text x="230.7" y="120.73" font-size="6.9" fill="#222" stroke="#222" stroke-width="0.15" text-anchor="end" >15</text>
<line x1="231.7" y1="101.78" x2="234.5" y2="101.78" stroke="#555" stroke-width="0.9" />
<text x="230.7" y="104.18" font-size="6.9" fill="#222" stroke="#222" stroke-width="0.15" text-anchor="end" >20</text>
<line x1="231.7" y1="85.22" x2="234.5" y2="85.22" stroke="#555" stroke-width="0.9" />
<text x="230.7" y="87.62" font-size="6.9" fill="#222" stroke="#222" stroke-width="0.15" text-anchor="end" >25</text>
<line x1="231.7" y1="68.67" x2="234.5" y2="68.67" stroke="#555" stroke-width="0.9" />
<text x="230.7" y="71.07" font-size="6.9" fill="#222" stroke="#222" stroke-width="0.15" text-anchor="end" >30</text>
<line x1="231.7" y1="52.11" x2="234.5" y2="52.11" stroke="#555" stroke-width="0.9" />
<text x="230.7" y="54.51" font-size="6.9" fill="#222" stroke="#222" stroke-width="0.15" text-anchor="end" >35</text>
<line x1="231.7" y1="35.56" x2="234.5" y2="35.56" stroke="#555" stroke-width="0.9" />
<text x="230.7" y="37.96" font-size="6.9" fill="#222" stroke="#222" stroke-width="0.15" text-anchor="end" >40</text>
<line x1="231.7" y1="19" x2="234.5" y2="19" stroke="#555" stroke-width="0.9" />
<text x="230.7" y="21.4" font-size="6.9" fill="#222" stroke="#222" stroke-width="0.15" text-anchor="end" >45</text>
<line x1="250" y1="168" x2="250" y2="170.4" stroke="#555" stroke-width="0.9" />
<text x="250" y="176.6" font-size="6.9" fill="#222" stroke="#222" stroke-width="0.15" text-anchor="middle" >−1.2</text>
<line x1="280.7" y1="168" x2="280.7" y2="170.4" stroke="#555" stroke-width="0.9" />
<text x="280.7" y="176.6" font-size="6.9" fill="#222" stroke="#222" stroke-width="0.15" text-anchor="middle" >−1.0</text>
<line x1="311.4" y1="168" x2="311.4" y2="170.4" stroke="#555" stroke-width="0.9" />
<text x="311.4" y="176.6" font-size="6.9" fill="#222" stroke="#222" stroke-width="0.15" text-anchor="middle" >−0.8</text>
<line x1="342.1" y1="168" x2="342.1" y2="170.4" stroke="#555" stroke-width="0.9" />
<text x="342.1" y="176.6" font-size="6.9" fill="#222" stroke="#222" stroke-width="0.15" text-anchor="middle" >−0.6</text>
<line x1="372.8" y1="168" x2="372.8" y2="170.4" stroke="#555" stroke-width="0.9" />
<text x="372.8" y="176.6" font-size="6.9" fill="#222" stroke="#222" stroke-width="0.15" text-anchor="middle" >−0.4</text>
<line x1="403.5" y1="168" x2="403.5" y2="170.4" stroke="#555" stroke-width="0.9" />
<text x="403.5" y="176.6" font-size="6.9" fill="#222" stroke="#222" stroke-width="0.15" text-anchor="middle" >−0.2</text>
<text x="320.3" y="192.3" font-size="10.2" fill="#222" text-anchor="middle" stroke="#222" stroke-width="0.15"><tspan font-style="italic">E</tspan> (V vs. RHE)</text>
<text transform="translate(211.8,98.9) rotate(-90)" font-size="10.2" fill="#222" text-anchor="middle" stroke="#222" stroke-width="0.15">Population of K<tspan font-size="6.5" dy="-3.6">.</tspan><tspan dy="3.6">H</tspan><tspan font-size="6.5" dy="2">2</tspan><tspan dy="-2">O</tspan></text>
<polyline points="250,155.42 280.7,158.4 311.4,159.72 342.1,160.72 372.8,161.71 403.5,162.7" fill="none" stroke="#f07078" stroke-width="0.9"/>
<polyline points="250,148.8 280.7,152.11 311.4,154.42 342.1,157.74 372.8,159.72 403.5,161.05" fill="none" stroke="#7fb0f4" stroke-width="0.9"/>
<polyline points="250,145.82 280.7,148.8 311.4,151.44 342.1,155.09 372.8,157.07 403.5,158.4" fill="none" stroke="#b47cf0" stroke-width="0.9"/>
<polyline points="250,110.39 280.7,117.67 311.4,119.66 342.1,124.96 372.8,126.61 403.5,137.54" fill="none" stroke="#8fe0a6" stroke-width="0.9"/>
<polyline points="250,34.56 280.7,42.84 311.4,55.75 342.1,68 372.8,73.63 403.5,94.82" fill="none" stroke="#f0c23a" stroke-width="0.9"/>
<circle cx="250" cy="155.42" r="2.55" fill="url(#m_red)"/>
<circle cx="280.7" cy="158.4" r="2.55" fill="url(#m_red)"/>
<circle cx="311.4" cy="159.72" r="2.55" fill="url(#m_red)"/>
<circle cx="342.1" cy="160.72" r="2.55" fill="url(#m_red)"/>
<circle cx="372.8" cy="161.71" r="2.55" fill="url(#m_red)"/>
<circle cx="403.5" cy="162.7" r="2.55" fill="url(#m_red)"/>
<circle cx="250" cy="148.8" r="2.55" fill="url(#m_blue)"/>
<circle cx="280.7" cy="152.11" r="2.55" fill="url(#m_blue)"/>
<circle cx="311.4" cy="154.42" r="2.55" fill="url(#m_blue)"/>
<circle cx="342.1" cy="157.74" r="2.55" fill="url(#m_blue)"/>
<circle cx="372.8" cy="159.72" r="2.55" fill="url(#m_blue)"/>
<circle cx="403.5" cy="161.05" r="2.55" fill="url(#m_blue)"/>
<circle cx="250" cy="145.82" r="2.55" fill="url(#m_purple)"/>
<circle cx="280.7" cy="148.8" r="2.55" fill="url(#m_purple)"/>
<circle cx="311.4" cy="151.44" r="2.55" fill="url(#m_purple)"/>
<circle cx="342.1" cy="155.09" r="2.55" fill="url(#m_purple)"/>
<circle cx="372.8" cy="157.07" r="2.55" fill="url(#m_purple)"/>
<circle cx="403.5" cy="158.4" r="2.55" fill="url(#m_purple)"/>
<circle cx="250" cy="110.39" r="2.55" fill="url(#m_green)"/>
<circle cx="280.7" cy="117.67" r="2.55" fill="url(#m_green)"/>
<circle cx="311.4" cy="119.66" r="2.55" fill="url(#m_green)"/>
<circle cx="342.1" cy="124.96" r="2.55" fill="url(#m_green)"/>
<circle cx="372.8" cy="126.61" r="2.55" fill="url(#m_green)"/>
<circle cx="403.5" cy="137.54" r="2.55" fill="url(#m_green)"/>
<circle cx="250" cy="34.56" r="2.55" fill="url(#m_gold)"/>
<circle cx="280.7" cy="42.84" r="2.55" fill="url(#m_gold)"/>
<circle cx="311.4" cy="55.75" r="2.55" fill="url(#m_gold)"/>
<circle cx="342.1" cy="68" r="2.55" fill="url(#m_gold)"/>
<circle cx="372.8" cy="73.63" r="2.55" fill="url(#m_gold)"/>
<circle cx="403.5" cy="94.82" r="2.55" fill="url(#m_gold)"/>
<line x1="372.3" y1="26.4" x2="391.2" y2="26.4" stroke="#f07078" stroke-width="0.9" />
<circle cx="381.8" cy="26.4" r="2.3" fill="url(#m_red)"/>
<text x="392.8" y="28.7" font-size="6.5" fill="#222" stroke="#222" stroke-width="0.15" text-anchor="start" >Ce-d-Cu</text>
<line x1="372.3" y1="34.95" x2="391.2" y2="34.95" stroke="#aac8f8" stroke-width="0.9" />
<circle cx="381.8" cy="34.95" r="2.3" fill="url(#m_blue)"/>
<text x="392.8" y="37.25" font-size="6.5" fill="#222" stroke="#222" stroke-width="0.15" text-anchor="start" >d-Cu</text>
<line x1="372.3" y1="43.5" x2="391.2" y2="43.5" stroke="#b47cf0" stroke-width="0.9" />
<circle cx="381.8" cy="43.5" r="2.3" fill="url(#m_purple)"/>
<text x="392.8" y="45.8" font-size="6.5" fill="#222" stroke="#222" stroke-width="0.15" text-anchor="start" >c-Cu</text>
<line x1="372.3" y1="52.05" x2="391.2" y2="52.05" stroke="#b8ecc6" stroke-width="0.9" />
<circle cx="381.8" cy="52.05" r="2.3" fill="url(#m_green)"/>
<text x="392.8" y="54.35" font-size="6.5" fill="#222" stroke="#222" stroke-width="0.15" text-anchor="start" >Ce-a-Cu</text>
<line x1="372.3" y1="60.6" x2="391.2" y2="60.6" stroke="#f0c23a" stroke-width="0.9" />
<circle cx="381.8" cy="60.6" r="2.3" fill="url(#m_gold)"/>
<text x="392.8" y="62.9" font-size="6.5" fill="#222" stroke="#222" stroke-width="0.15" text-anchor="start" >a-Cu</text>
<text x="438.7" y="7.3" font-size="10.6" fill="#111" stroke="#111" stroke-width="0.15" text-anchor="start" >c</text>
<line x1="475.4" y1="18.5" x2="663" y2="18.5" stroke="#555" stroke-width="1.0" />
<line x1="475.4" y1="168.5" x2="663" y2="168.5" stroke="#555" stroke-width="1.0" />
<line x1="662.5" y1="18.5" x2="662.5" y2="168.5" stroke="#555" stroke-width="1.0" />
<line x1="475.9" y1="18.5" x2="475.9" y2="168.5" stroke="#555" stroke-width="1.05" />
<line x1="473.1" y1="158.4" x2="475.9" y2="158.4" stroke="#555" stroke-width="0.9" />
<text x="471.3" y="160.8" font-size="6.9" fill="#222" stroke="#222" stroke-width="0.15" text-anchor="end" >3580</text>
<line x1="473.1" y1="138.4" x2="475.9" y2="138.4" stroke="#555" stroke-width="0.9" />
<text x="471.3" y="140.8" font-size="6.9" fill="#222" stroke="#222" stroke-width="0.15" text-anchor="end" >3590</text>
<line x1="473.1" y1="118.4" x2="475.9" y2="118.4" stroke="#555" stroke-width="0.9" />
<text x="471.3" y="120.8" font-size="6.9" fill="#222" stroke="#222" stroke-width="0.15" text-anchor="end" >3600</text>
<line x1="473.1" y1="98.4" x2="475.9" y2="98.4" stroke="#555" stroke-width="0.9" />
<text x="471.3" y="100.8" font-size="6.9" fill="#222" stroke="#222" stroke-width="0.15" text-anchor="end" >3610</text>
<line x1="473.1" y1="78.4" x2="475.9" y2="78.4" stroke="#555" stroke-width="0.9" />
<text x="471.3" y="80.8" font-size="6.9" fill="#222" stroke="#222" stroke-width="0.15" text-anchor="end" >3620</text>
<line x1="473.1" y1="58.4" x2="475.9" y2="58.4" stroke="#555" stroke-width="0.9" />
<text x="471.3" y="60.8" font-size="6.9" fill="#222" stroke="#222" stroke-width="0.15" text-anchor="end" >3630</text>
<line x1="473.1" y1="38.4" x2="475.9" y2="38.4" stroke="#555" stroke-width="0.9" />
<text x="471.3" y="40.8" font-size="6.9" fill="#222" stroke="#222" stroke-width="0.15" text-anchor="end" >3640</text>
<line x1="473.1" y1="18.4" x2="475.9" y2="18.4" stroke="#555" stroke-width="0.9" />
<text x="471.3" y="20.8" font-size="6.9" fill="#222" stroke="#222" stroke-width="0.15" text-anchor="end" >3650</text>
<line x1="491.2" y1="168.5" x2="491.2" y2="171.7" stroke="#555" stroke-width="0.9" />
<text x="491.2" y="179" font-size="6.9" fill="#222" stroke="#222" stroke-width="0.15" text-anchor="middle" >−1.2</text>
<line x1="522.35" y1="168.5" x2="522.35" y2="171.7" stroke="#555" stroke-width="0.9" />
<text x="522.35" y="179" font-size="6.9" fill="#222" stroke="#222" stroke-width="0.15" text-anchor="middle" >−1.0</text>
<line x1="553.5" y1="168.5" x2="553.5" y2="171.7" stroke="#555" stroke-width="0.9" />
<text x="553.5" y="179" font-size="6.9" fill="#222" stroke="#222" stroke-width="0.15" text-anchor="middle" >−0.8</text>
<line x1="584.65" y1="168.5" x2="584.65" y2="171.7" stroke="#555" stroke-width="0.9" />
<text x="584.65" y="179" font-size="6.9" fill="#222" stroke="#222" stroke-width="0.15" text-anchor="middle" >−0.6</text>
<line x1="615.8" y1="168.5" x2="615.8" y2="171.7" stroke="#555" stroke-width="0.9" />
<text x="615.8" y="179" font-size="6.9" fill="#222" stroke="#222" stroke-width="0.15" text-anchor="middle" >−0.4</text>
<line x1="646.95" y1="168.5" x2="646.95" y2="171.7" stroke="#555" stroke-width="0.9" />
<text x="646.95" y="179" font-size="6.9" fill="#222" stroke="#222" stroke-width="0.15" text-anchor="middle" >−0.2</text>
<text x="570.2" y="193.8" font-size="10.2" fill="#222" text-anchor="middle" stroke="#222" stroke-width="0.15"><tspan font-style="italic">E</tspan> (V vs. RHE)</text>
<text transform="translate(444.2,100.9) rotate(-90)" font-size="10.1" fill="#222" text-anchor="middle" stroke="#222" stroke-width="0.15">Wavenumber (cm<tspan font-size="6" dy="-3.8">-1</tspan><tspan dy="3.8">)</tspan></text>
<polyline points="491.2,115.8 522.35,99.4 553.5,84 584.65,69.4 615.8,54.2 646.95,41" fill="none" stroke="#8fe0a6" stroke-width="0.9"/>
<polyline points="491.2,136.2 522.35,117 553.5,97 584.65,74.6 615.8,56 646.95,35.6" fill="none" stroke="#f0c23a" stroke-width="0.9"/>
<polyline points="491.2,129.6 522.35,125.6 553.5,117.4 584.65,112 615.8,105.6 646.95,100.8" fill="none" stroke="#f05058" stroke-width="0.9"/>
<polyline points="491.2,147.2 522.35,138 553.5,126.4 584.65,117.8 615.8,106.4 646.95,97.4" fill="none" stroke="#5a96f0" stroke-width="0.9"/>
<polyline points="491.2,157 522.35,143 553.5,130.2 584.65,117.4 615.8,104.4 646.95,93.2" fill="none" stroke="#b070f0" stroke-width="0.9"/>
<circle cx="491.2" cy="115.8" r="2.55" fill="url(#m_green)"/>
<circle cx="522.35" cy="99.4" r="2.55" fill="url(#m_green)"/>
<circle cx="553.5" cy="84" r="2.55" fill="url(#m_green)"/>
<circle cx="584.65" cy="69.4" r="2.55" fill="url(#m_green)"/>
<circle cx="615.8" cy="54.2" r="2.55" fill="url(#m_green)"/>
<circle cx="646.95" cy="41" r="2.55" fill="url(#m_green)"/>
<circle cx="491.2" cy="136.2" r="2.55" fill="url(#m_gold)"/>
<circle cx="522.35" cy="117" r="2.55" fill="url(#m_gold)"/>
<circle cx="553.5" cy="97" r="2.55" fill="url(#m_gold)"/>
<circle cx="584.65" cy="74.6" r="2.55" fill="url(#m_gold)"/>
<circle cx="615.8" cy="56" r="2.55" fill="url(#m_gold)"/>
<circle cx="646.95" cy="35.6" r="2.55" fill="url(#m_gold)"/>
<circle cx="491.2" cy="129.6" r="2.55" fill="url(#m_red)"/>
<circle cx="522.35" cy="125.6" r="2.55" fill="url(#m_red)"/>
<circle cx="553.5" cy="117.4" r="2.55" fill="url(#m_red)"/>
<circle cx="584.65" cy="112" r="2.55" fill="url(#m_red)"/>
<circle cx="615.8" cy="105.6" r="2.55" fill="url(#m_red)"/>
<circle cx="646.95" cy="100.8" r="2.55" fill="url(#m_red)"/>
<circle cx="491.2" cy="147.2" r="2.55" fill="url(#m_blue)"/>
<circle cx="522.35" cy="138" r="2.55" fill="url(#m_blue)"/>
<circle cx="553.5" cy="126.4" r="2.55" fill="url(#m_blue)"/>
<circle cx="584.65" cy="117.8" r="2.55" fill="url(#m_blue)"/>
<circle cx="615.8" cy="106.4" r="2.55" fill="url(#m_blue)"/>
<circle cx="646.95" cy="97.4" r="2.55" fill="url(#m_blue)"/>
<circle cx="491.2" cy="157" r="2.55" fill="url(#m_purple)"/>
<circle cx="522.35" cy="143" r="2.55" fill="url(#m_purple)"/>
<circle cx="553.5" cy="130.2" r="2.55" fill="url(#m_purple)"/>
<circle cx="584.65" cy="117.4" r="2.55" fill="url(#m_purple)"/>
<circle cx="615.8" cy="104.4" r="2.55" fill="url(#m_purple)"/>
<circle cx="646.95" cy="93.2" r="2.55" fill="url(#m_purple)"/>
<circle cx="485.6" cy="23.7" r="2.3" fill="url(#m_red)"/>
<text x="491.6" y="26" font-size="6.5" fill="#222" stroke="#222" stroke-width="0.15" text-anchor="start" >Ce-d-Cu</text>
<circle cx="485.6" cy="31.38" r="2.3" fill="url(#m_blue)"/>
<text x="491.6" y="33.68" font-size="6.5" fill="#222" stroke="#222" stroke-width="0.15" text-anchor="start" >d-Cu</text>
<circle cx="485.6" cy="39.06" r="2.3" fill="url(#m_purple)"/>
<text x="491.6" y="41.36" font-size="6.5" fill="#222" stroke="#222" stroke-width="0.15" text-anchor="start" >c-Cu</text>
<circle cx="485.6" cy="46.74" r="2.3" fill="url(#m_green)"/>
<text x="491.6" y="49.04" font-size="6.5" fill="#222" stroke="#222" stroke-width="0.15" text-anchor="start" >Ce-a-Cu</text>
<circle cx="485.6" cy="54.42" r="2.3" fill="url(#m_gold)"/>
<text x="491.6" y="56.72" font-size="6.5" fill="#222" stroke="#222" stroke-width="0.15" text-anchor="start" >a-Cu</text>
<text x="522.0" y="80.4" font-size="5.75" fill="#5cc879" stroke="#5cc879" stroke-width="0.04" textLength="29.4" lengthAdjust="spacingAndGlyphs">37.5 cm<tspan font-size="3.9" dy="-2.1">-1</tspan><tspan dy="2.1">/V</tspan></text>
<text x="588.7" y="83.2" font-size="5.75" fill="#e8be3c" stroke="#e8be3c" stroke-width="0.04" textLength="28.6" lengthAdjust="spacingAndGlyphs">50.5 cm<tspan font-size="3.9" dy="-2.1">-1</tspan><tspan dy="2.1">/V</tspan></text>
<text x="556.2" y="106.9" font-size="5.75" fill="#e8464c" stroke="#e8464c" stroke-width="0.04" textLength="28.8" lengthAdjust="spacingAndGlyphs">14.9 cm<tspan font-size="3.9" dy="-2.1">-1</tspan><tspan dy="2.1">/V</tspan></text>
<text x="616.7" y="117.0" font-size="5.75" fill="#9a4ce6" stroke="#9a4ce6" stroke-width="0.04" textLength="29.2" lengthAdjust="spacingAndGlyphs">31.8 cm<tspan font-size="3.9" dy="-2.1">-1</tspan><tspan dy="2.1">/V</tspan></text>
<text x="554.8" y="140.7" font-size="5.75" fill="#4a88e6" stroke="#4a88e6" stroke-width="0.04" textLength="29.2" lengthAdjust="spacingAndGlyphs">25.2 cm<tspan font-size="3.9" dy="-2.1">-1</tspan><tspan dy="2.1">/V</tspan></text>
<text x="204.8" y="203.9" font-size="10.6" fill="#111" stroke="#111" stroke-width="0.15" text-anchor="start" >d</text>
<line x1="233.3" y1="218.4" x2="419.2" y2="218.4" stroke="#555" stroke-width="1.0" />
<line x1="233.3" y1="367.25" x2="419.2" y2="367.25" stroke="#555" stroke-width="1.0" />
<line x1="418.7" y1="218.4" x2="418.7" y2="367.25" stroke="#555" stroke-width="1.0" />
<line x1="233.8" y1="218.4" x2="233.8" y2="367.25" stroke="#555" stroke-width="1.0" />
<line x1="231.2" y1="367.25" x2="233.8" y2="367.25" stroke="#555" stroke-width="0.9" />
<text x="229.1" y="369.65" font-size="6.9" fill="#222" stroke="#222" stroke-width="0.15" text-anchor="end" >0</text>
<line x1="231.2" y1="337.48" x2="233.8" y2="337.48" stroke="#555" stroke-width="0.9" />
<text x="229.1" y="339.88" font-size="6.9" fill="#222" stroke="#222" stroke-width="0.15" text-anchor="end" >20</text>
<line x1="231.2" y1="307.71" x2="233.8" y2="307.71" stroke="#555" stroke-width="0.9" />
<text x="229.1" y="310.11" font-size="6.9" fill="#222" stroke="#222" stroke-width="0.15" text-anchor="end" >40</text>
<line x1="231.2" y1="277.94" x2="233.8" y2="277.94" stroke="#555" stroke-width="0.9" />
<text x="229.1" y="280.34" font-size="6.9" fill="#222" stroke="#222" stroke-width="0.15" text-anchor="end" >60</text>
<line x1="231.2" y1="248.17" x2="233.8" y2="248.17" stroke="#555" stroke-width="0.9" />
<text x="229.1" y="250.57" font-size="6.9" fill="#222" stroke="#222" stroke-width="0.15" text-anchor="end" >80</text>
<line x1="231.2" y1="218.4" x2="233.8" y2="218.4" stroke="#555" stroke-width="0.9" />
<text x="229.1" y="220.8" font-size="6.9" fill="#222" stroke="#222" stroke-width="0.15" text-anchor="end" >100</text>
<rect x="243.9" y="355.79" width="16.6" height="11.46" fill="url(#bar_m)" stroke="#b090b0" stroke-width="0.5"/>
<line x1="252.2" y1="354.6" x2="252.2" y2="356.98" stroke="#444" stroke-width="0.7" />
<line x1="250.6" y1="354.6" x2="253.8" y2="354.6" stroke="#444" stroke-width="0.7" />
<line x1="250.6" y1="356.98" x2="253.8" y2="356.98" stroke="#444" stroke-width="0.7" />
<text x="252.2" y="376" font-size="6.9" fill="#222" stroke="#222" stroke-width="0.15" text-anchor="middle" >2.5%</text>
<rect x="280.9" y="348.2" width="16.6" height="19.05" fill="url(#bar_m)" stroke="#b090b0" stroke-width="0.5"/>
<line x1="289.2" y1="345.52" x2="289.2" y2="350.88" stroke="#444" stroke-width="0.7" />
<line x1="287.6" y1="345.52" x2="290.8" y2="345.52" stroke="#444" stroke-width="0.7" />
<line x1="287.6" y1="350.88" x2="290.8" y2="350.88" stroke="#444" stroke-width="0.7" />
<text x="289.2" y="376" font-size="6.9" fill="#222" stroke="#222" stroke-width="0.15" text-anchor="middle" >4.1%</text>
<rect x="317.9" y="344.18" width="16.6" height="23.07" fill="url(#bar_m)" stroke="#b090b0" stroke-width="0.5"/>
<line x1="326.2" y1="341.95" x2="326.2" y2="346.41" stroke="#444" stroke-width="0.7" />
<line x1="324.6" y1="341.95" x2="327.8" y2="341.95" stroke="#444" stroke-width="0.7" />
<line x1="324.6" y1="346.41" x2="327.8" y2="346.41" stroke="#444" stroke-width="0.7" />
<text x="326.2" y="376" font-size="6.9" fill="#222" stroke="#222" stroke-width="0.15" text-anchor="middle" >5.2%</text>
<rect x="354.9" y="234.18" width="16.6" height="133.07" fill="url(#bar_m)" stroke="#b090b0" stroke-width="0.5"/>
<line x1="363.2" y1="230.61" x2="363.2" y2="237.75" stroke="#444" stroke-width="0.7" />
<line x1="361.6" y1="230.61" x2="364.8" y2="230.61" stroke="#444" stroke-width="0.7" />
<line x1="361.6" y1="237.75" x2="364.8" y2="237.75" stroke="#444" stroke-width="0.7" />
<text x="363.2" y="376" font-size="6.9" fill="#222" stroke="#222" stroke-width="0.15" text-anchor="middle" >14.6%</text>
<rect x="391.9" y="228.37" width="16.6" height="138.88" fill="url(#bar_m)" stroke="#b090b0" stroke-width="0.5"/>
<line x1="400.2" y1="225.4" x2="400.2" y2="231.35" stroke="#444" stroke-width="0.7" />
<line x1="398.6" y1="225.4" x2="401.8" y2="225.4" stroke="#444" stroke-width="0.7" />
<line x1="398.6" y1="231.35" x2="401.8" y2="231.35" stroke="#444" stroke-width="0.7" />
<text x="400.2" y="376" font-size="6.9" fill="#222" stroke="#222" stroke-width="0.15" text-anchor="middle" >33.8%</text>
<text x="324.1" y="392.9" font-size="9.75" fill="#222" text-anchor="middle" stroke="#222" stroke-width="0.15">Population of K·H<tspan font-size="6.5" dy="2">2</tspan><tspan dy="-2">O</tspan></text>
<text transform="translate(213,296.5) rotate(-90)" font-size="10" fill="#222" text-anchor="middle" stroke="#222" stroke-width="0.15">H<tspan font-size="6.5" dy="2">2</tspan><tspan dy="-2"> FE (%)</tspan></text>
<text x="438.6" y="203.5" font-size="10.6" fill="#111" stroke="#111" stroke-width="0.15" text-anchor="start" >e</text>
<line x1="475.9" y1="218" x2="661.6" y2="218" stroke="#555" stroke-width="1.0" />
<line x1="476.4" y1="368.3" x2="661.6" y2="368.3" stroke="#555" stroke-width="1.0" />
<line x1="476.4" y1="217.4" x2="476.4" y2="368.8" stroke="#555" stroke-width="1.0" />
<line x1="661.6" y1="217.4" x2="661.6" y2="368.8" stroke="#9fd98f" stroke-width="1.0" />
<line x1="474" y1="368.3" x2="476.4" y2="368.3" stroke="#555" stroke-width="0.9" />
<text x="471" y="370.7" font-size="6.9" fill="#222" stroke="#222" stroke-width="0.15" text-anchor="end" >0</text>
<line x1="474" y1="349.5" x2="476.4" y2="349.5" stroke="#555" stroke-width="0.9" />
<text x="471" y="351.9" font-size="6.9" fill="#222" stroke="#222" stroke-width="0.15" text-anchor="end" >10</text>
<line x1="474" y1="330.7" x2="476.4" y2="330.7" stroke="#555" stroke-width="0.9" />
<text x="471" y="333.1" font-size="6.9" fill="#222" stroke="#222" stroke-width="0.15" text-anchor="end" >20</text>
<line x1="474" y1="311.9" x2="476.4" y2="311.9" stroke="#555" stroke-width="0.9" />
<text x="471" y="314.3" font-size="6.9" fill="#222" stroke="#222" stroke-width="0.15" text-anchor="end" >30</text>
<line x1="474" y1="293.1" x2="476.4" y2="293.1" stroke="#555" stroke-width="0.9" />
<text x="471" y="295.5" font-size="6.9" fill="#222" stroke="#222" stroke-width="0.15" text-anchor="end" >40</text>
<line x1="474" y1="274.3" x2="476.4" y2="274.3" stroke="#555" stroke-width="0.9" />
<text x="471" y="276.7" font-size="6.9" fill="#222" stroke="#222" stroke-width="0.15" text-anchor="end" >50</text>
<line x1="474" y1="255.5" x2="476.4" y2="255.5" stroke="#555" stroke-width="0.9" />
<text x="471" y="257.9" font-size="6.9" fill="#222" stroke="#222" stroke-width="0.15" text-anchor="end" >60</text>
<line x1="474" y1="236.7" x2="476.4" y2="236.7" stroke="#555" stroke-width="0.9" />
<text x="471" y="239.1" font-size="6.9" fill="#222" stroke="#222" stroke-width="0.15" text-anchor="end" >70</text>
<line x1="474" y1="217.9" x2="476.4" y2="217.9" stroke="#555" stroke-width="0.9" />
<text x="471" y="220.3" font-size="6.9" fill="#222" stroke="#222" stroke-width="0.15" text-anchor="end" >80</text>
<line x1="659.4" y1="355.3" x2="661.6" y2="355.3" stroke="#7acc66" stroke-width="0.9" />
<text x="665" y="357.8" font-size="7.2" fill="#58b840" stroke="#58b840" stroke-width="0.15" text-anchor="start" >0</text>
<line x1="659.4" y1="332.4" x2="661.6" y2="332.4" stroke="#7acc66" stroke-width="0.9" />
<text x="665" y="334.9" font-size="7.2" fill="#58b840" stroke="#58b840" stroke-width="0.15" text-anchor="start" >2</text>
<line x1="659.4" y1="309.5" x2="661.6" y2="309.5" stroke="#7acc66" stroke-width="0.9" />
<text x="665" y="312" font-size="7.2" fill="#58b840" stroke="#58b840" stroke-width="0.15" text-anchor="start" >4</text>
<line x1="659.4" y1="286.6" x2="661.6" y2="286.6" stroke="#7acc66" stroke-width="0.9" />
<text x="665" y="289.1" font-size="7.2" fill="#58b840" stroke="#58b840" stroke-width="0.15" text-anchor="start" >6</text>
<line x1="659.4" y1="263.7" x2="661.6" y2="263.7" stroke="#7acc66" stroke-width="0.9" />
<text x="665" y="266.2" font-size="7.2" fill="#58b840" stroke="#58b840" stroke-width="0.15" text-anchor="start" >8</text>
<line x1="659.4" y1="240.8" x2="661.6" y2="240.8" stroke="#7acc66" stroke-width="0.9" />
<text x="665" y="243.3" font-size="7.2" fill="#58b840" stroke="#58b840" stroke-width="0.15" text-anchor="start" >10</text>
<line x1="659.4" y1="217.9" x2="661.6" y2="217.9" stroke="#7acc66" stroke-width="0.9" />
<text x="665" y="220.4" font-size="7.2" fill="#58b840" stroke="#58b840" stroke-width="0.15" text-anchor="start" >12</text>
<rect x="479.8" y="234.26" width="14.5" height="134.04" fill="url(#bar_a)" stroke="#c4a88c" stroke-width="0.5"/>
<line x1="487.05" y1="231.62" x2="487.05" y2="236.89" stroke="#555" stroke-width="0.7" />
<line x1="485.55" y1="231.62" x2="488.55" y2="231.62" stroke="#555" stroke-width="0.8" />
<line x1="485.55" y1="236.89" x2="488.55" y2="236.89" stroke="#555" stroke-width="0.8" />
<rect x="494.75" y="354.01" width="14.5" height="14.29" fill="url(#bar_e)" stroke="#9cb0cc" stroke-width="0.5"/>
<line x1="502" y1="351.57" x2="502" y2="356.46" stroke="#555" stroke-width="0.7" />
<line x1="500.5" y1="351.57" x2="503.5" y2="351.57" stroke="#555" stroke-width="0.8" />
<line x1="500.5" y1="356.46" x2="503.5" y2="356.46" stroke="#555" stroke-width="0.8" />
<text x="494.8" y="376.4" font-size="6.9" fill="#222" stroke="#222" stroke-width="0.15" text-anchor="middle" >2.5%</text>
<rect x="517.05" y="306.45" width="14.5" height="61.85" fill="url(#bar_a)" stroke="#c4a88c" stroke-width="0.5"/>
<line x1="524.3" y1="303.35" x2="524.3" y2="309.55" stroke="#555" stroke-width="0.7" />
<line x1="522.8" y1="303.35" x2="525.8" y2="303.35" stroke="#555" stroke-width="0.8" />
<line x1="522.8" y1="309.55" x2="525.8" y2="309.55" stroke="#555" stroke-width="0.8" />
<rect x="532" y="307.39" width="14.5" height="60.91" fill="url(#bar_e)" stroke="#9cb0cc" stroke-width="0.5"/>
<line x1="539.25" y1="302.5" x2="539.25" y2="312.28" stroke="#555" stroke-width="0.7" />
<line x1="537.75" y1="302.5" x2="540.75" y2="302.5" stroke="#555" stroke-width="0.8" />
<line x1="537.75" y1="312.28" x2="540.75" y2="312.28" stroke="#555" stroke-width="0.8" />
<text x="532.6" y="376.4" font-size="6.9" fill="#222" stroke="#222" stroke-width="0.15" text-anchor="middle" >4.1%</text>
<rect x="554.3" y="332.02" width="14.5" height="36.28" fill="url(#bar_a)" stroke="#c4a88c" stroke-width="0.5"/>
<line x1="561.55" y1="329.95" x2="561.55" y2="334.08" stroke="#555" stroke-width="0.7" />
<line x1="560.05" y1="329.95" x2="563.05" y2="329.95" stroke="#555" stroke-width="0.8" />
<line x1="560.05" y1="334.08" x2="563.05" y2="334.08" stroke="#555" stroke-width="0.8" />
<rect x="569.25" y="294.23" width="14.5" height="74.07" fill="url(#bar_e)" stroke="#9cb0cc" stroke-width="0.5"/>
<line x1="576.5" y1="290.84" x2="576.5" y2="297.61" stroke="#555" stroke-width="0.7" />
<line x1="575" y1="290.84" x2="578" y2="290.84" stroke="#555" stroke-width="0.8" />
<line x1="575" y1="297.61" x2="578" y2="297.61" stroke="#555" stroke-width="0.8" />
<text x="569.3" y="376.4" font-size="6.9" fill="#222" stroke="#222" stroke-width="0.15" text-anchor="middle" >5.2%</text>
<rect x="606.5" y="367.36" width="14.5" height="0.94" fill="url(#bar_e)" stroke="#9cb0cc" stroke-width="0.5"/>
<text x="609.9" y="376.4" font-size="6.9" fill="#222" stroke="#222" stroke-width="0.15" text-anchor="middle" >14.6%</text>
<rect x="643.75" y="367.55" width="14.5" height="0.75" fill="url(#bar_e)" stroke="#9cb0cc" stroke-width="0.5"/>
<text x="644.9" y="376.4" font-size="6.9" fill="#222" stroke="#222" stroke-width="0.15" text-anchor="middle" >33.8%</text>
<polyline points="494.5,245.38 531.75,344.42 569,351.18 606.25,355.3 643.5,355.99" fill="none" stroke="#62bf4a" stroke-width="0.9"/>
<line x1="494.5" y1="223.3" x2="494.5" y2="267.4" stroke="#a5de95" stroke-width="0.9" />
<line x1="493.1" y1="223.3" x2="495.9" y2="223.3" stroke="#a5de95" stroke-width="0.9" />
<line x1="493.1" y1="267.4" x2="495.9" y2="267.4" stroke="#a5de95" stroke-width="0.9" />
<circle cx="494.5" cy="245.38" r="2.5" fill="url(#m_dgreen)"/>
<circle cx="531.75" cy="344.42" r="2.5" fill="url(#m_dgreen)"/>
<circle cx="569" cy="351.18" r="2.5" fill="url(#m_dgreen)"/>
<circle cx="606.25" cy="355.3" r="2.5" fill="url(#m_dgreen)"/>
<circle cx="643.5" cy="355.99" r="2.5" fill="url(#m_dgreen)"/>
<rect x="612.2" y="220.7" width="13.3" height="6.2" fill="url(#bar_a)" stroke="#c8ab90" stroke-width="0.4"/>
<rect x="612.2" y="228.1" width="13.3" height="6.2" fill="url(#bar_e)" stroke="#a8b8d0" stroke-width="0.4"/>
<text x="627.3" y="226" font-size="5.9" fill="#222" stroke="#222" stroke-width="0.15" text-anchor="start" >Acetate</text>
<text x="627.3" y="233.4" font-size="5.9" fill="#222" stroke="#222" stroke-width="0.15" text-anchor="start" >Ethylene</text>
<text x="568.6" y="393" font-size="9.85" fill="#222" text-anchor="middle" stroke="#222" stroke-width="0.15">Population of K·H<tspan font-size="6.5" dy="2">2</tspan><tspan dy="-2">O</tspan></text>
<text transform="translate(454.6,294.1) rotate(-90)" font-size="10" fill="#222" text-anchor="middle" stroke="#222" stroke-width="0.15">FE (%)</text>
<text transform="translate(681.7,283.9) rotate(-90)" font-size="9.2" fill="#5cbc44" text-anchor="middle" stroke="#5cbc44" stroke-width="0.15">FE<tspan font-size="6" dy="2.2"> acetate</tspan><tspan dy="-2.2">/FE</tspan><tspan font-size="6" dy="2.2">ethylene</tspan></text></svg></body></html>
